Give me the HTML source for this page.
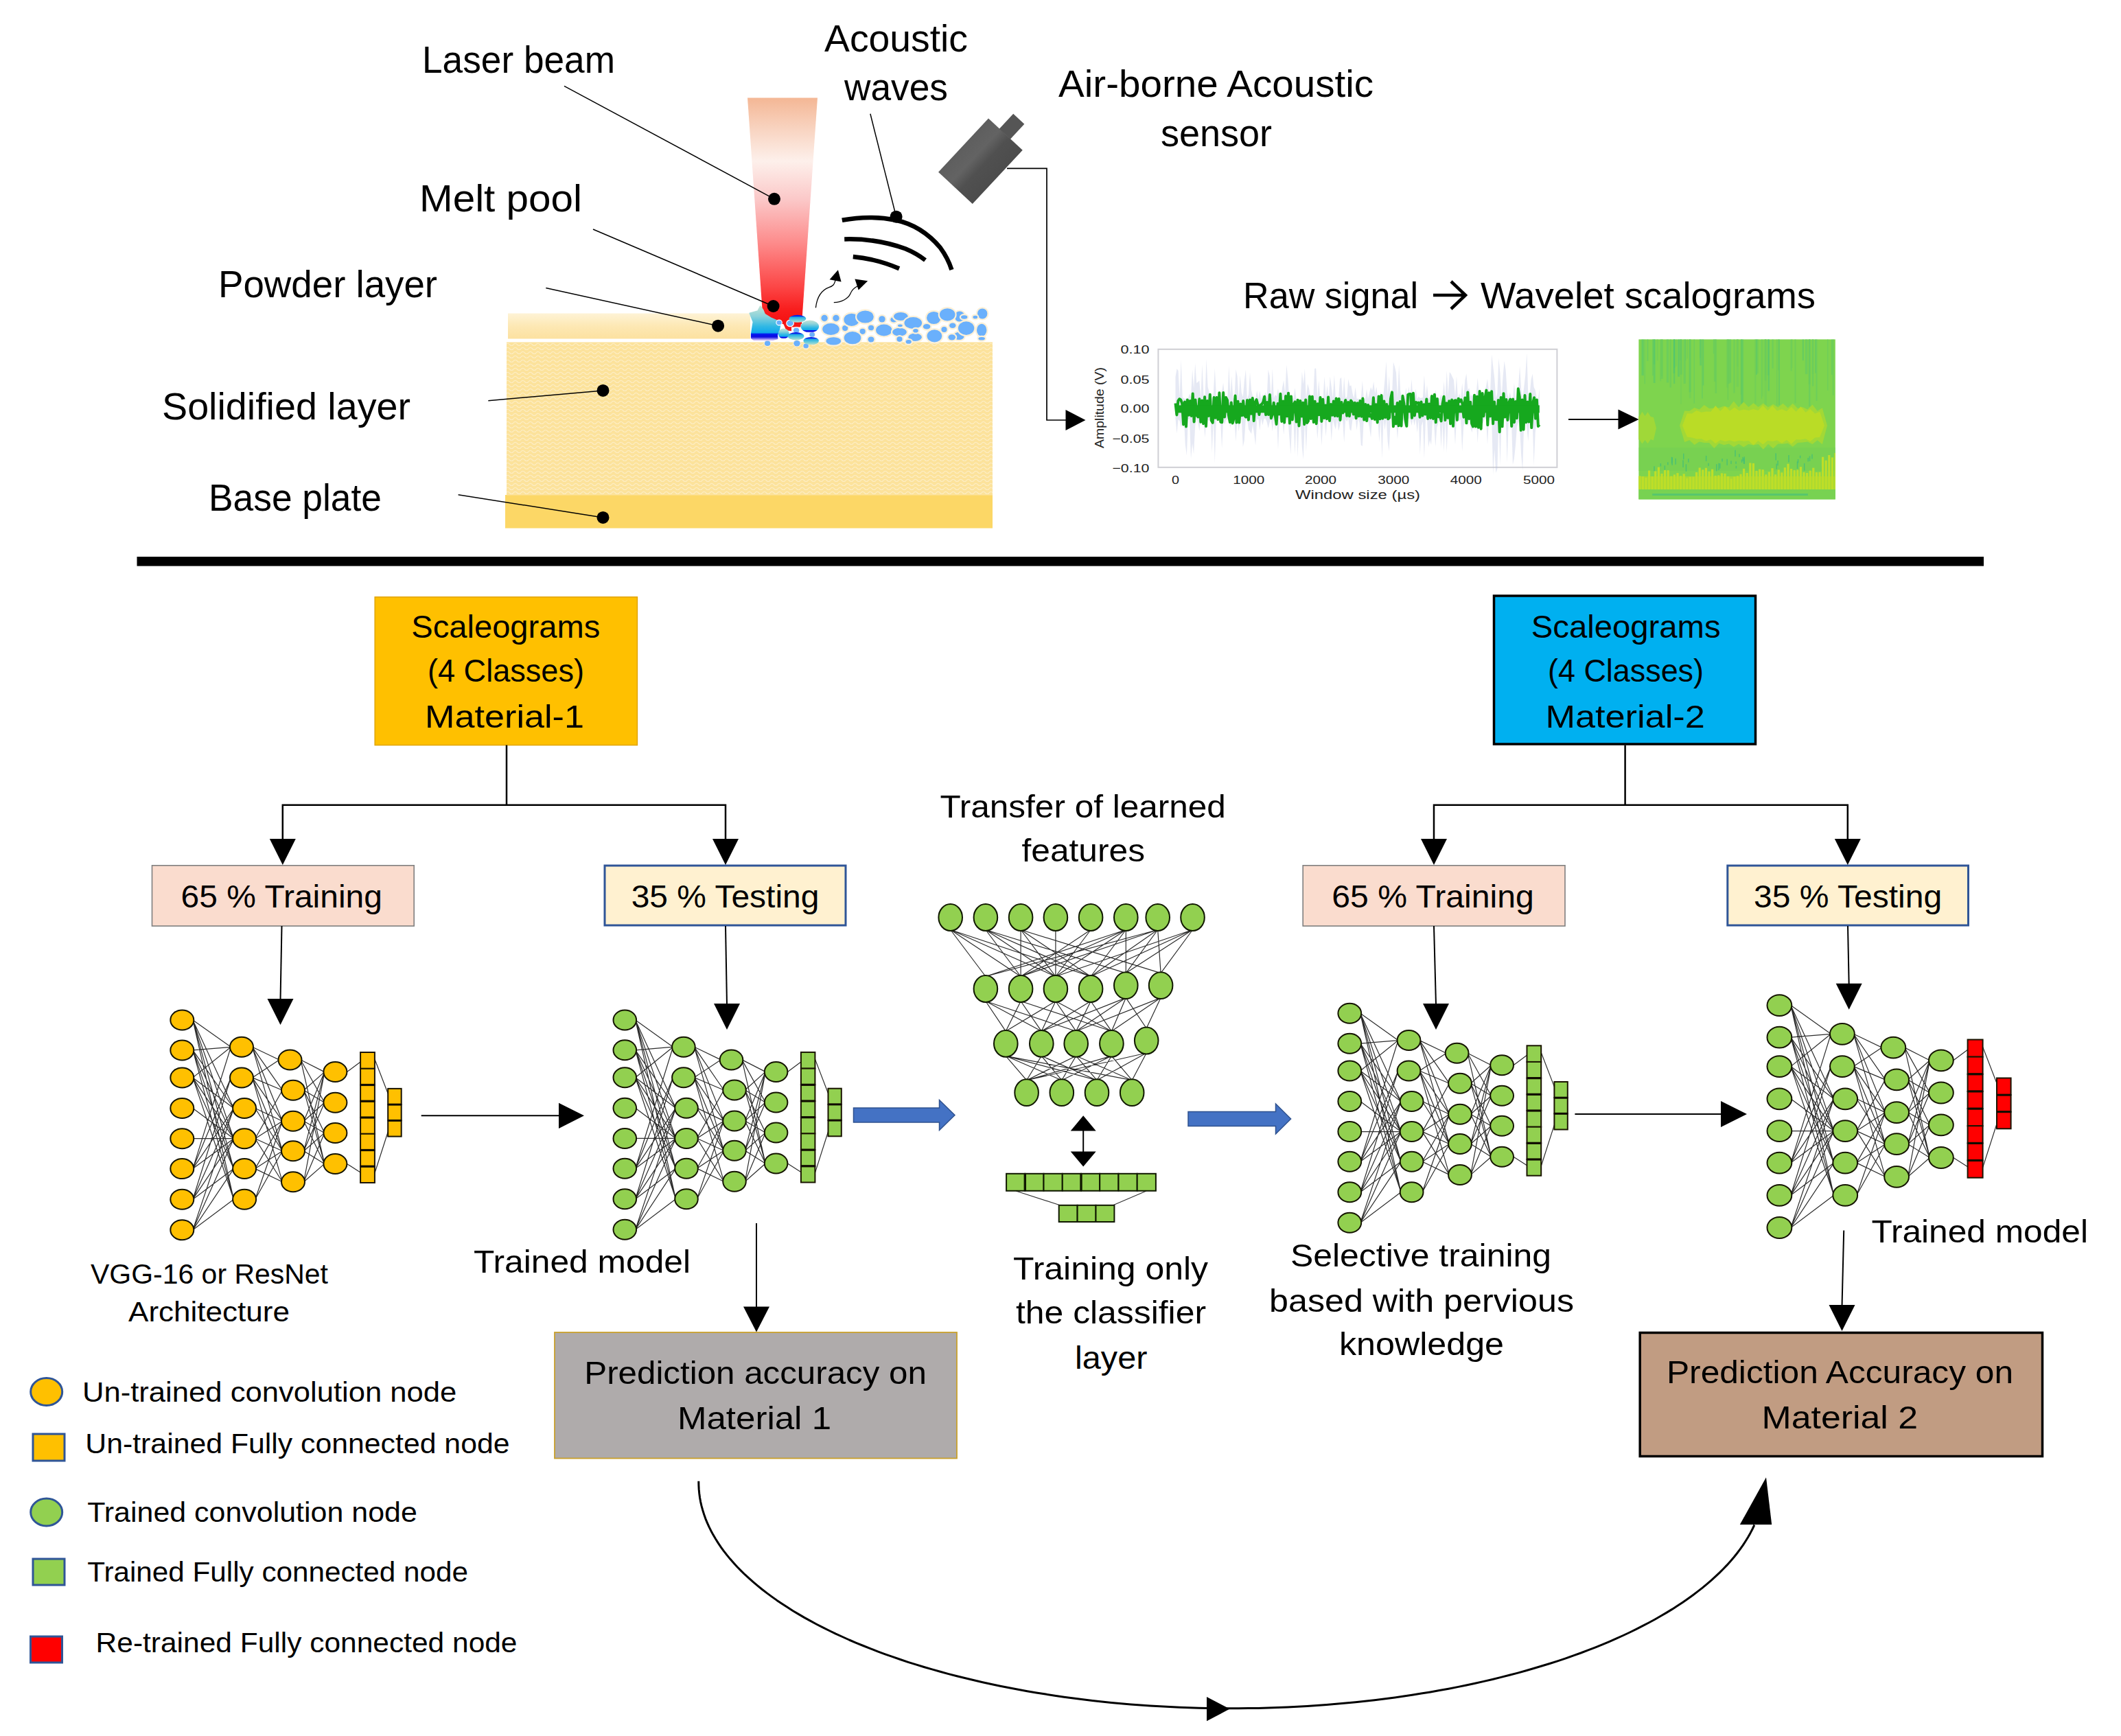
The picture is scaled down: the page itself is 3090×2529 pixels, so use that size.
<!DOCTYPE html>
<html><head><meta charset="utf-8"><title>Transfer learning schematic</title>
<style>html,body{margin:0;padding:0;background:#fff;}body{width:3090px;height:2529px;overflow:hidden;font-family:"Liberation Sans",sans-serif;}svg{display:block}</style></head>
<body><svg width="3090" height="2529" viewBox="0 0 3090 2529">
<rect width="3090" height="2529" fill="#fff"/>
<defs>
<linearGradient id="laser" x1="0" y1="0" x2="0" y2="1">
<stop offset="0" stop-color="#F4B795"/><stop offset="0.13" stop-color="#F8D2BE"/><stop offset="0.28" stop-color="#FDF0EB"/><stop offset="0.45" stop-color="#FBC8C8"/><stop offset="0.645" stop-color="#FD8A8A"/><stop offset="0.836" stop-color="#FC4646"/><stop offset="0.94" stop-color="#F81C1C"/><stop offset="1" stop-color="#F41010"/>
</linearGradient>
<linearGradient id="powder" x1="0" y1="0" x2="0" y2="1">
<stop offset="0" stop-color="#FEF3D6"/><stop offset="0.5" stop-color="#FDE8B4"/><stop offset="1" stop-color="#FCE1A0"/>
</linearGradient>
<linearGradient id="melt" x1="0" y1="0" x2="0" y2="1">
<stop offset="0" stop-color="#C4E4D6"/><stop offset="0.3" stop-color="#8CD2DA"/><stop offset="0.6" stop-color="#30B8E4"/><stop offset="0.78" stop-color="#10A8EC"/><stop offset="0.83" stop-color="#0410F0"/><stop offset="0.91" stop-color="#1010E0"/><stop offset="1" stop-color="#D0C0F8"/>
</linearGradient>
<linearGradient id="melt2" x1="0" y1="0" x2="0" y2="1">
<stop offset="0" stop-color="#0818E8"/><stop offset="0.16" stop-color="#0828E8"/><stop offset="0.3" stop-color="#20ACE4"/><stop offset="0.6" stop-color="#5CC8DC"/><stop offset="1" stop-color="#B8E0D0"/>
</linearGradient>
<linearGradient id="sensor" x1="0" y1="0" x2="0" y2="1">
<stop offset="0" stop-color="#5E5E5E"/><stop offset="0.35" stop-color="#636363"/><stop offset="0.6" stop-color="#505050"/><stop offset="1" stop-color="#4C4C4C"/>
</linearGradient>
<pattern id="wave" width="11" height="6" patternUnits="userSpaceOnUse">
<rect width="11" height="6" fill="#FCE29B"/>
<path d="M0,4 Q2.75,0.8 5.5,4 T11,4" fill="none" stroke="#FDEDC2" stroke-width="1.3"/>
</pattern>
</defs>
<rect x="736" y="721" width="710" height="48.5" fill="#FCD766"/>
<rect x="738" y="498.5" width="708" height="223" fill="url(#wave)"/>
<rect x="740" y="456.5" width="353" height="37" fill="url(#powder)"/>
<polygon points="1089,142.5 1191,142.5 1168,472 1112,472" fill="url(#laser)"/>
<ellipse cx="1201.1" cy="463.5" rx="4.7" ry="4.7" fill="#6AB0FC" stroke="#FBF0D8" stroke-width="4.4" paint-order="stroke"/>
<ellipse cx="1218.0" cy="463.5" rx="4.7" ry="4.7" fill="#6AB0FC" stroke="#FBF0D8" stroke-width="4.4" paint-order="stroke"/>
<ellipse cx="1210.5" cy="479.4" rx="12.3" ry="8.5" fill="#6AB0FC" stroke="#FBF0D8" stroke-width="4.4" paint-order="stroke"/>
<ellipse cx="1231.2" cy="478.1" rx="4.1" ry="4.1" fill="#6AB0FC" stroke="#FBF0D8" stroke-width="4.4" paint-order="stroke"/>
<ellipse cx="1214.3" cy="496.9" rx="10.9" ry="5.7" fill="#6AB0FC" stroke="#FBF0D8" stroke-width="4.4" paint-order="stroke"/>
<ellipse cx="1240.7" cy="465.8" rx="11.3" ry="9.1" fill="#6AB0FC" stroke="#FBF0D8" stroke-width="4.4" paint-order="stroke"/>
<ellipse cx="1260.5" cy="461.5" rx="12.3" ry="9.1" fill="#6AB0FC" stroke="#FBF0D8" stroke-width="4.4" paint-order="stroke"/>
<ellipse cx="1256.7" cy="482.8" rx="4.1" ry="4.1" fill="#6AB0FC" stroke="#FBF0D8" stroke-width="4.4" paint-order="stroke"/>
<ellipse cx="1242.0" cy="492.2" rx="12.3" ry="9.1" fill="#6AB0FC" stroke="#FBF0D8" stroke-width="4.4" paint-order="stroke"/>
<ellipse cx="1269.0" cy="477.5" rx="4.1" ry="3.8" fill="#6AB0FC" stroke="#FBF0D8" stroke-width="4.4" paint-order="stroke"/>
<ellipse cx="1269.0" cy="494.5" rx="4.5" ry="4.1" fill="#6AB0FC" stroke="#FBF0D8" stroke-width="4.4" paint-order="stroke"/>
<ellipse cx="1285.0" cy="464.9" rx="4.7" ry="4.7" fill="#6AB0FC" stroke="#FBF0D8" stroke-width="4.4" paint-order="stroke"/>
<ellipse cx="1287.8" cy="480.9" rx="11.7" ry="8.5" fill="#6AB0FC" stroke="#FBF0D8" stroke-width="4.4" paint-order="stroke"/>
<ellipse cx="1302.0" cy="465.8" rx="4.7" ry="3.8" fill="#6AB0FC" stroke="#FBF0D8" stroke-width="4.4" paint-order="stroke"/>
<ellipse cx="1312.3" cy="461.1" rx="10.4" ry="6.0" fill="#6AB0FC" stroke="#FBF0D8" stroke-width="4.4" paint-order="stroke"/>
<ellipse cx="1330.3" cy="470.5" rx="12.8" ry="8.5" fill="#6AB0FC" stroke="#FBF0D8" stroke-width="4.4" paint-order="stroke"/>
<ellipse cx="1310.5" cy="483.7" rx="10.4" ry="6.0" fill="#6AB0FC" stroke="#FBF0D8" stroke-width="4.4" paint-order="stroke"/>
<ellipse cx="1310.5" cy="494.1" rx="4.1" ry="3.8" fill="#6AB0FC" stroke="#FBF0D8" stroke-width="4.4" paint-order="stroke"/>
<ellipse cx="1333.1" cy="491.3" rx="9.8" ry="5.7" fill="#6AB0FC" stroke="#FBF0D8" stroke-width="4.4" paint-order="stroke"/>
<ellipse cx="1323.7" cy="497.9" rx="4.1" ry="2.8" fill="#6AB0FC" stroke="#FBF0D8" stroke-width="4.4" paint-order="stroke"/>
<ellipse cx="1350.1" cy="475.8" rx="5.3" ry="3.8" fill="#6AB0FC" stroke="#FBF0D8" stroke-width="4.4" paint-order="stroke"/>
<ellipse cx="1360.4" cy="463.0" rx="10.4" ry="9.1" fill="#6AB0FC" stroke="#FBF0D8" stroke-width="4.4" paint-order="stroke"/>
<ellipse cx="1398.1" cy="461.1" rx="7.5" ry="7.5" fill="#6AB0FC" stroke="#FBF0D8" stroke-width="4.4" paint-order="stroke"/>
<ellipse cx="1380.2" cy="458.3" rx="11.3" ry="9.1" fill="#6AB0FC" stroke="#FBF0D8" stroke-width="4.4" paint-order="stroke"/>
<ellipse cx="1404.7" cy="462.0" rx="4.7" ry="2.8" fill="#6AB0FC" stroke="#FBF0D8" stroke-width="4.4" paint-order="stroke"/>
<ellipse cx="1361.4" cy="489.4" rx="10.9" ry="9.1" fill="#6AB0FC" stroke="#FBF0D8" stroke-width="4.4" paint-order="stroke"/>
<ellipse cx="1375.5" cy="480.0" rx="4.1" ry="4.1" fill="#6AB0FC" stroke="#FBF0D8" stroke-width="4.4" paint-order="stroke"/>
<ellipse cx="1387.8" cy="474.3" rx="4.7" ry="3.8" fill="#6AB0FC" stroke="#FBF0D8" stroke-width="4.4" paint-order="stroke"/>
<ellipse cx="1397.2" cy="489.4" rx="7.5" ry="5.7" fill="#6AB0FC" stroke="#FBF0D8" stroke-width="4.4" paint-order="stroke"/>
<ellipse cx="1386.8" cy="491.3" rx="5.3" ry="4.1" fill="#6AB0FC" stroke="#FBF0D8" stroke-width="4.4" paint-order="stroke"/>
<ellipse cx="1407.6" cy="478.1" rx="11.7" ry="9.8" fill="#6AB0FC" stroke="#FBF0D8" stroke-width="4.4" paint-order="stroke"/>
<ellipse cx="1431.2" cy="456.9" rx="7.2" ry="7.5" fill="#6AB0FC" stroke="#FBF0D8" stroke-width="4.4" paint-order="stroke"/>
<ellipse cx="1420.8" cy="462.0" rx="3.4" ry="2.3" fill="#6AB0FC" stroke="#FBF0D8" stroke-width="4.4" paint-order="stroke"/>
<ellipse cx="1430.2" cy="480.9" rx="7.2" ry="9.1" fill="#6AB0FC" stroke="#FBF0D8" stroke-width="4.4" paint-order="stroke"/>
<ellipse cx="1430.2" cy="493.2" rx="4.7" ry="2.3" fill="#6AB0FC" stroke="#FBF0D8" stroke-width="4.4" paint-order="stroke"/>
<ellipse cx="1334.0" cy="481.8" rx="3.8" ry="2.8" fill="#6AB0FC" stroke="#FBF0D8" stroke-width="4.4" paint-order="stroke"/>
<ellipse cx="1311.4" cy="474.3" rx="3.4" ry="1.9" fill="#6AB0FC" stroke="#FBF0D8" stroke-width="4.4" paint-order="stroke"/>
<polygon points="1139.8,470.9 1167.1,470.9 1166.2,476.6 1153.0,476.6 1153.0,482.2 1145.4,481.3 1141.7,472.8" fill="#F41818"/>
<ellipse cx="1118.1" cy="500.2" rx="4.2" ry="3.8" fill="#6AB0FC" stroke="#FBF1DC" stroke-width="2" paint-order="stroke"/>
<ellipse cx="1161.0" cy="500.2" rx="4.7" ry="4.2" fill="#6AB0FC" stroke="#FBF1DC" stroke-width="2" paint-order="stroke"/>
<ellipse cx="1174.2" cy="503.9" rx="3.8" ry="3.4" fill="#6AB0FC" stroke="#FBF1DC" stroke-width="2" paint-order="stroke"/>
<ellipse cx="1183.2" cy="487.4" rx="3.8" ry="3.4" fill="#6AB0FC" stroke="#FBF1DC" stroke-width="2" paint-order="stroke"/>
<path d="M1092.2,456.3 L1103.9,453.0 L1107.7,445.9 L1111.5,451.1 L1114.3,457.7 L1122.8,462.9 L1131.3,466.7 L1137.4,469.5 L1136.0,476.6 L1135.1,481.3 L1132.2,487.9 L1132.7,493.6 L1126.6,495.4 L1098.3,495.4 L1094.7,492.6 L1094.7,486.0 L1097.3,469.0 Z" fill="url(#melt)" stroke="url(#melt)" stroke-width="1.5" stroke-linejoin="round"/>
<ellipse cx="1141.7" cy="486.0" rx="8.0" ry="7.5" fill="url(#melt)" />
<ellipse cx="1179.9" cy="475.6" rx="13.2" ry="9.0" fill="url(#melt)" />
<ellipse cx="1135.1" cy="470.0" rx="3.6" ry="3.2" fill="#6AB0FC" stroke="#FFFFFF" stroke-width="2.4" paint-order="stroke"/>
<ellipse cx="1151.1" cy="470.9" rx="4.7" ry="4.2" fill="#6AB0FC" stroke="#FFFFFF" stroke-width="2.4" paint-order="stroke"/>
<ellipse cx="1160.1" cy="481.3" rx="4.2" ry="3.8" fill="#6AB0FC" stroke="#FFFFFF" stroke-width="2.4" paint-order="stroke"/>
<ellipse cx="1161.9" cy="464.3" rx="12.3" ry="5.5" fill="url(#melt2)" />
<ellipse cx="1159.6" cy="489.8" rx="11.8" ry="5.7" fill="url(#melt2)" />
<ellipse cx="1181.7" cy="496.6" rx="11.3" ry="5.7" fill="url(#melt2)" />
<path d="M1188.4,448.3 C1190.7,429.0 1200.1,421.5 1207.7,418.7 S1215.2,413.9 1217.1,408.3" fill="none" stroke="#000" stroke-width="1.3"/>
<polygon points="1220.9,393.2 1208.6,407.3 1225.6,410.6" fill="#000"/>
<path d="M1214.8,440.7 C1226.5,440.3 1236.0,434.7 1238.8,428.1 S1243.5,420.5 1249.2,416.8" fill="none" stroke="#000" stroke-width="1.3"/>
<polygon points="1264.2,409.2 1245.4,406.4 1250.7,422.4" fill="#000"/>
<path d="M1226.8,320.8 Q1268,313 1305.2,320.8 T1369.7,360.6 Q1381,376 1386.4,392.9" fill="none" stroke="#000" stroke-width="6.5"/>
<path d="M1230.2,348.4 Q1276.4,347 1318.8,362.3 Q1335,369 1348,379" fill="none" stroke="#000" stroke-width="6.5"/>
<path d="M1242.8,373.9 Q1276.4,377 1310,391.2" fill="none" stroke="#000" stroke-width="6.5"/>
<g transform="translate(1428.4,234.7) rotate(-47)"><rect x="-53.5" y="-34" width="107" height="68" fill="url(#sensor)"/><rect x="53" y="-12" width="30" height="22" fill="#555"/></g>
<polyline points="1467,245.4 1525,245.4 1525,612 1554,612" fill="none" stroke="#000" stroke-width="1.7"/>
<polygon points="1552.5,597 1552.5,627 1581.5,612" fill="#000"/>
<line x1="822" y1="125.4" x2="1128" y2="289.8" stroke="#000" stroke-width="1.5"/>
<circle cx="1128" cy="289.8" r="9" fill="#000"/>
<line x1="864" y1="334" x2="1126.6" y2="446" stroke="#000" stroke-width="1.5"/>
<circle cx="1126.6" cy="446" r="9" fill="#000"/>
<line x1="795.3" y1="419.5" x2="1046.1" y2="474.7" stroke="#000" stroke-width="1.5"/>
<circle cx="1046.1" cy="474.7" r="9" fill="#000"/>
<line x1="711.3" y1="583.7" x2="878.5" y2="568.9" stroke="#000" stroke-width="1.5"/>
<circle cx="878.5" cy="568.9" r="9" fill="#000"/>
<line x1="667.6" y1="720.8" x2="878.5" y2="753.9" stroke="#000" stroke-width="1.5"/>
<circle cx="878.5" cy="753.9" r="9" fill="#000"/>
<line x1="1267.9" y1="165.8" x2="1305.6" y2="315.7" stroke="#000" stroke-width="1.5"/>
<circle cx="1305.6" cy="315.7" r="9" fill="#000"/>
<g font-family="Liberation Sans, sans-serif">
<text x="615.0" y="106.3" font-size="56" textLength="281.0" lengthAdjust="spacingAndGlyphs" fill="#000" >Laser beam</text>
<text x="611.0" y="307.6" font-size="56" textLength="237.0" lengthAdjust="spacingAndGlyphs" fill="#000" >Melt pool</text>
<text x="318.0" y="433.1" font-size="56" textLength="319.0" lengthAdjust="spacingAndGlyphs" fill="#000" >Powder layer</text>
<text x="236.0" y="610.9" font-size="56" textLength="362.0" lengthAdjust="spacingAndGlyphs" fill="#000" >Solidified layer</text>
<text x="304.0" y="743.7" font-size="56" textLength="252.0" lengthAdjust="spacingAndGlyphs" fill="#000" >Base plate</text>
<text x="1201.0" y="75.2" font-size="56" textLength="209.0" lengthAdjust="spacingAndGlyphs" fill="#000" >Acoustic</text>
<text x="1230.0" y="145.9" font-size="56" textLength="151.0" lengthAdjust="spacingAndGlyphs" fill="#000" >waves</text>
<text x="1542.0" y="140.5" font-size="56" textLength="459.0" lengthAdjust="spacingAndGlyphs" fill="#000" >Air-borne Acoustic</text>
<text x="1691.0" y="213.0" font-size="56" textLength="162.0" lengthAdjust="spacingAndGlyphs" fill="#000" >sensor</text>
<text x="1811.0" y="448.9" font-size="54" textLength="255.0" lengthAdjust="spacingAndGlyphs" fill="#000" >Raw signal</text>
<text x="2157.0" y="448.9" font-size="54" textLength="488.0" lengthAdjust="spacingAndGlyphs" fill="#000" >Wavelet scalograms</text>
</g>
<path d="M2088,430 H2134 M2114,410 L2135,430 L2114,450" fill="none" stroke="#000" stroke-width="4.5"/>
<rect x="1687.4" y="508.8" width="581" height="172" fill="#fff" stroke="#CFCFD4" stroke-width="2"/>
<polygon points="1712.5,549.0 1714.5,537.2 1716.6,540.1 1718.6,578.5 1720.7,523.9 1722.7,578.7 1724.8,580.2 1726.8,581.3 1728.9,580.0 1730.9,580.5 1733.0,573.2 1735.0,578.2 1737.1,538.4 1739.1,565.7 1741.2,529.2 1743.2,557.9 1745.3,556.6 1747.3,554.5 1749.4,579.9 1751.4,531.1 1753.4,574.8 1755.5,579.7 1757.5,523.1 1759.6,563.8 1761.6,570.7 1763.7,581.1 1765.7,580.8 1767.8,573.9 1769.8,536.6 1771.9,576.0 1773.9,581.0 1776.0,579.1 1778.0,580.6 1780.1,570.9 1782.1,557.7 1784.2,577.5 1786.2,578.5 1788.3,581.4 1790.3,533.0 1792.4,574.7 1794.4,548.0 1796.4,580.4 1798.5,578.2 1800.5,537.9 1802.6,548.5 1804.6,581.4 1806.7,546.6 1808.7,571.7 1810.8,578.5 1812.8,554.9 1814.9,538.4 1816.9,581.3 1819.0,574.8 1821.0,542.8 1823.1,568.9 1825.1,577.0 1827.2,581.4 1829.2,580.8 1831.3,569.0 1833.3,581.3 1835.3,569.4 1837.4,581.3 1839.4,574.6 1841.5,578.6 1843.5,571.0 1845.6,580.1 1847.6,538.4 1849.7,547.5 1851.7,580.8 1853.8,537.0 1855.8,579.9 1857.9,575.1 1859.9,577.6 1862.0,565.9 1864.0,580.8 1866.1,579.4 1868.1,564.4 1870.2,554.1 1872.2,574.4 1874.3,531.6 1876.3,551.1 1878.3,580.8 1880.4,580.0 1882.4,574.6 1884.5,580.8 1886.5,565.0 1888.6,581.2 1890.6,580.9 1892.7,581.2 1894.7,581.4 1896.8,541.4 1898.8,559.8 1900.9,537.3 1902.9,581.1 1905.0,559.1 1907.0,565.8 1909.1,578.6 1911.1,581.1 1913.2,580.3 1915.2,537.0 1917.2,536.4 1919.3,579.2 1921.3,554.4 1923.4,581.4 1925.4,579.0 1927.5,581.1 1929.5,548.5 1931.6,578.3 1933.6,561.6 1935.7,581.4 1937.7,548.3 1939.8,564.0 1941.8,579.8 1943.9,545.9 1945.9,580.7 1948.0,580.2 1950.0,581.4 1952.1,552.0 1954.1,549.7 1956.2,580.9 1958.2,548.9 1960.2,579.3 1962.3,578.5 1964.3,552.3 1966.4,562.6 1968.4,561.2 1970.5,573.3 1972.5,580.2 1974.6,563.9 1976.6,581.1 1978.7,580.8 1980.7,581.4 1982.8,580.1 1984.8,555.0 1986.9,580.7 1988.9,581.4 1991.0,567.1 1993.0,580.9 1995.1,571.6 1997.1,563.9 1999.1,569.0 2001.2,555.8 2003.2,573.4 2005.3,563.5 2007.3,580.7 2009.4,581.2 2011.4,571.0 2013.5,578.0 2015.5,574.2 2017.6,551.9 2019.6,526.6 2021.7,575.3 2023.7,547.4 2025.8,581.4 2027.8,581.3 2029.9,527.6 2031.9,534.1 2034.0,543.1 2036.0,580.4 2038.1,531.2 2040.1,568.8 2042.1,580.8 2044.2,581.2 2046.2,580.4 2048.3,565.0 2050.3,581.4 2052.4,563.1 2054.4,579.6 2056.5,552.2 2058.5,581.4 2060.6,577.9 2062.6,566.5 2064.7,581.2 2066.7,577.5 2068.8,579.8 2070.8,579.7 2072.9,578.9 2074.9,546.5 2077.0,578.8 2079.0,561.0 2081.0,581.4 2083.1,577.4 2085.1,577.9 2087.2,576.4 2089.2,581.4 2091.3,568.1 2093.3,581.4 2095.4,578.9 2097.4,581.2 2099.5,574.4 2101.5,581.3 2103.6,555.7 2105.6,581.0 2107.7,540.1 2109.7,575.8 2111.8,542.1 2113.8,544.6 2115.9,549.2 2117.9,553.3 2120.0,577.5 2122.0,548.0 2124.0,580.8 2126.1,573.1 2128.1,581.3 2130.2,558.2 2132.2,581.4 2134.3,554.3 2136.3,544.3 2138.4,567.7 2140.4,565.5 2142.5,576.6 2144.5,576.3 2146.6,575.4 2148.6,581.4 2150.7,573.4 2152.7,550.5 2154.8,574.6 2156.8,573.9 2158.9,581.2 2160.9,581.3 2162.9,571.7 2165.0,562.4 2167.0,552.1 2169.1,571.4 2171.1,571.8 2173.2,516.4 2175.2,533.5 2177.3,551.5 2179.3,580.8 2181.4,572.3 2183.4,522.3 2185.5,543.7 2187.5,581.4 2189.6,548.1 2191.6,526.1 2193.7,539.8 2195.7,571.7 2197.8,580.7 2199.8,571.6 2201.9,581.4 2203.9,581.1 2205.9,558.0 2208.0,581.0 2210.0,581.3 2212.1,562.6 2214.1,533.3 2216.2,567.4 2218.2,581.3 2220.3,563.8 2222.3,546.0 2224.4,514.2 2226.4,578.2 2228.5,575.5 2230.5,553.7 2232.6,544.6 2234.6,564.1 2236.7,568.2 2238.7,579.4 2240.8,581.4 2242.8,566.4 2242.8,615.1 2240.8,609.6 2238.7,609.4 2236.7,630.4 2234.6,678.5 2232.6,610.6 2230.5,609.4 2228.5,609.8 2226.4,643.0 2224.4,624.0 2222.3,610.8 2220.3,614.1 2218.2,685.6 2216.2,663.4 2214.1,623.0 2212.1,613.1 2210.0,621.4 2208.0,648.6 2205.9,668.0 2203.9,676.9 2201.9,609.9 2199.8,612.1 2197.8,610.9 2195.7,674.6 2193.7,609.6 2191.6,611.2 2189.6,609.7 2187.5,613.0 2185.5,677.4 2183.4,609.8 2181.4,683.1 2179.3,688.9 2177.3,654.7 2175.2,691.8 2173.2,609.6 2171.1,613.9 2169.1,609.4 2167.0,647.7 2165.0,609.4 2162.9,609.4 2160.9,616.3 2158.9,615.7 2156.8,609.5 2154.8,609.8 2152.7,645.5 2150.7,610.4 2148.6,627.0 2146.6,615.6 2144.5,630.2 2142.5,623.6 2140.4,611.4 2138.4,621.0 2136.3,609.5 2134.3,609.4 2132.2,621.4 2130.2,657.7 2128.1,610.4 2126.1,613.1 2124.0,613.5 2122.0,609.8 2120.0,648.1 2117.9,610.1 2115.9,609.7 2113.8,622.4 2111.8,612.6 2109.7,609.4 2107.7,659.6 2105.6,609.5 2103.6,658.2 2101.5,615.8 2099.5,652.4 2097.4,610.6 2095.4,616.4 2093.3,622.6 2091.3,651.0 2089.2,618.7 2087.2,609.6 2085.1,648.3 2083.1,640.9 2081.0,651.6 2079.0,609.9 2077.0,609.8 2074.9,668.0 2072.9,613.7 2070.8,620.4 2068.8,662.1 2066.7,610.8 2064.7,630.2 2062.6,609.4 2060.6,619.9 2058.5,609.5 2056.5,619.9 2054.4,609.9 2052.4,609.8 2050.3,611.7 2048.3,609.9 2046.2,623.4 2044.2,610.0 2042.1,612.7 2040.1,624.9 2038.1,609.5 2036.0,639.9 2034.0,615.3 2031.9,612.7 2029.9,622.1 2027.8,609.8 2025.8,611.0 2023.7,657.4 2021.7,643.6 2019.6,609.5 2017.6,626.4 2015.5,610.1 2013.5,667.9 2011.4,611.5 2009.4,644.1 2007.3,610.1 2005.3,609.8 2003.2,611.9 2001.2,610.6 1999.1,609.5 1997.1,637.2 1995.1,623.2 1993.0,612.6 1991.0,613.3 1988.9,614.7 1986.9,609.4 1984.8,649.9 1982.8,648.6 1980.7,616.3 1978.7,609.4 1976.6,626.7 1974.6,609.4 1972.5,611.3 1970.5,610.8 1968.4,627.8 1966.4,625.5 1964.3,609.6 1962.3,614.2 1960.2,610.0 1958.2,644.7 1956.2,613.8 1954.1,609.4 1952.1,620.1 1950.0,627.7 1948.0,610.3 1945.9,625.5 1943.9,619.8 1941.8,610.3 1939.8,642.7 1937.7,610.2 1935.7,609.4 1933.6,609.4 1931.6,635.7 1929.5,609.4 1927.5,611.9 1925.4,649.6 1923.4,615.0 1921.3,613.7 1919.3,639.5 1917.2,609.9 1915.2,609.5 1913.2,611.9 1911.1,609.4 1909.1,611.5 1907.0,612.6 1905.0,609.4 1902.9,658.1 1900.9,611.5 1898.8,669.2 1896.8,651.2 1894.7,613.1 1892.7,609.4 1890.6,665.9 1888.6,613.1 1886.5,661.6 1884.5,613.8 1882.4,609.8 1880.4,661.8 1878.3,636.0 1876.3,610.1 1874.3,611.2 1872.2,609.9 1870.2,633.3 1868.1,609.9 1866.1,613.7 1864.0,609.4 1862.0,654.7 1859.9,610.4 1857.9,626.6 1855.8,609.4 1853.8,628.6 1851.7,610.2 1849.7,615.2 1847.6,623.7 1845.6,614.6 1843.5,609.4 1841.5,610.0 1839.4,619.6 1837.4,609.4 1835.3,626.8 1833.3,610.2 1831.3,610.8 1829.2,648.8 1827.2,633.6 1825.1,617.9 1823.1,632.0 1821.0,628.4 1819.0,625.5 1816.9,609.6 1814.9,610.2 1812.8,641.8 1810.8,650.9 1808.7,609.4 1806.7,615.0 1804.6,628.6 1802.6,609.4 1800.5,643.0 1798.5,614.3 1796.4,610.3 1794.4,610.0 1792.4,623.8 1790.3,609.5 1788.3,610.7 1786.2,611.7 1784.2,618.2 1782.1,613.7 1780.1,653.1 1778.0,610.5 1776.0,609.4 1773.9,609.4 1771.9,609.6 1769.8,674.8 1767.8,610.1 1765.7,659.4 1763.7,609.7 1761.6,613.6 1759.6,611.3 1757.5,610.6 1755.5,637.3 1753.4,612.2 1751.4,609.5 1749.4,609.4 1747.3,628.0 1745.3,615.7 1743.2,609.4 1741.2,620.8 1739.1,661.6 1737.1,645.9 1735.0,668.6 1733.0,609.9 1730.9,610.7 1728.9,663.5 1726.8,647.5 1724.8,609.4 1722.7,614.4 1720.7,622.4 1718.6,613.2 1716.6,610.9 1714.5,631.5 1712.5,609.5" fill="#B0BCDC" opacity="0.32"/>
<polyline points="1712.5,587.5 1714.4,604.4 1716.4,583.9 1718.3,581.3 1720.2,582.4 1722.2,587.8 1724.1,618.4 1726.0,585.6 1728.0,621.4 1729.9,582.4 1731.9,604.8 1733.8,584.1 1735.7,605.9 1737.7,573.4 1739.6,614.5 1741.5,582.4 1743.5,605.3 1745.4,607.5 1747.3,581.2 1749.3,614.8 1751.2,583.6 1753.1,617.2 1755.1,578.3 1757.0,620.9 1758.9,584.0 1760.9,606.0 1762.8,574.8 1764.8,612.4 1766.7,615.8 1768.6,579.0 1770.6,608.8 1772.5,578.9 1774.4,611.1 1776.4,572.2 1778.3,614.7 1780.2,615.2 1782.2,572.0 1784.1,607.4 1786.0,578.9 1788.0,582.8 1789.9,604.6 1791.9,615.1 1793.8,586.6 1795.7,616.5 1797.7,609.0 1799.6,576.6 1801.5,615.6 1803.5,584.7 1805.4,615.6 1807.3,588.6 1809.3,605.2 1811.2,584.1 1813.1,605.4 1815.1,607.5 1817.0,583.1 1818.9,611.5 1820.9,582.5 1822.8,602.8 1824.8,580.0 1826.7,613.1 1828.6,585.7 1830.6,582.2 1832.5,589.8 1834.4,604.1 1836.4,589.9 1838.3,588.8 1840.2,585.9 1842.2,577.8 1844.1,604.2 1846.0,585.9 1848.0,604.0 1849.9,575.1 1851.8,609.2 1853.8,603.9 1855.7,586.7 1857.7,604.8 1859.6,617.9 1861.5,588.0 1863.5,603.5 1865.4,573.8 1867.3,613.9 1869.3,584.5 1871.2,615.6 1873.1,577.0 1875.1,606.3 1877.0,572.7 1878.9,616.6 1880.9,577.4 1882.8,611.4 1884.8,588.9 1886.7,585.4 1888.6,614.6 1890.6,582.7 1892.5,620.4 1894.4,584.1 1896.4,606.5 1898.3,586.7 1900.2,618.2 1902.2,582.4 1904.1,616.0 1906.0,613.3 1908.0,577.4 1909.9,609.9 1911.8,577.7 1913.8,615.1 1915.7,584.7 1917.7,617.2 1919.6,588.2 1921.5,604.3 1923.5,578.9 1925.4,614.0 1927.3,581.8 1929.3,609.1 1931.2,590.4 1933.1,610.2 1935.1,578.5 1937.0,613.0 1938.9,588.9 1940.9,604.7 1942.8,584.5 1944.7,606.0 1946.7,580.5 1948.6,606.2 1950.6,580.9 1952.5,611.9 1954.4,586.1 1956.4,601.4 1958.3,590.1 1960.2,583.0 1962.2,605.7 1964.1,586.1 1966.0,606.2 1968.0,583.4 1969.9,586.1 1971.8,603.5 1973.8,586.7 1975.7,609.3 1977.7,587.3 1979.6,606.3 1981.5,584.1 1983.5,606.8 1985.4,580.5 1987.3,611.6 1989.3,588.9 1991.2,613.0 1993.1,590.0 1995.1,606.5 1997.0,604.2 1998.9,609.9 2000.9,579.3 2002.8,611.0 2004.7,589.3 2006.7,615.4 2008.6,577.4 2010.6,610.3 2012.5,576.0 2014.4,609.7 2016.4,584.6 2018.3,608.0 2020.2,588.9 2022.2,610.3 2024.1,608.5 2026.0,581.0 2028.0,571.4 2029.9,621.3 2031.8,607.7 2033.8,617.4 2035.7,587.1 2037.6,620.3 2039.6,585.1 2041.5,620.5 2043.5,576.8 2045.4,588.1 2047.3,610.6 2049.3,620.8 2051.2,574.9 2053.1,573.9 2055.1,573.9 2057.0,608.8 2058.9,572.8 2060.9,605.4 2062.8,585.9 2064.7,587.1 2066.7,586.6 2068.6,607.7 2070.5,585.4 2072.5,605.6 2074.4,589.2 2076.4,603.5 2078.3,581.5 2080.2,609.9 2082.2,588.5 2084.1,608.9 2086.0,577.1 2088.0,609.9 2089.9,574.7 2091.8,615.3 2093.8,581.0 2095.7,607.2 2097.6,604.2 2099.6,613.4 2101.5,588.3 2103.5,577.8 2105.4,612.1 2107.3,587.2 2109.3,608.8 2111.2,584.2 2113.1,617.3 2115.1,582.5 2117.0,620.8 2118.9,583.7 2120.9,583.2 2122.8,611.9 2124.7,580.7 2126.7,584.9 2128.6,582.4 2130.5,588.2 2132.5,607.7 2134.4,579.4 2136.4,616.3 2138.3,571.4 2140.2,610.0 2142.2,585.8 2144.1,616.9 2146.0,621.5 2148.0,575.8 2149.9,621.5 2151.8,577.7 2153.8,622.7 2155.7,570.1 2157.6,624.7 2159.6,572.9 2161.5,606.2 2163.4,580.3 2165.4,568.6 2167.3,619.1 2169.3,572.3 2171.2,606.3 2173.1,570.2 2175.1,617.3 2177.0,585.5 2178.9,610.9 2180.9,611.2 2182.8,582.9 2184.7,629.2 2186.7,578.9 2188.6,621.3 2190.5,573.2 2192.5,607.5 2194.4,581.9 2196.4,611.9 2198.3,586.3 2200.2,581.7 2202.2,621.0 2204.1,581.4 2206.0,615.2 2208.0,585.0 2209.9,609.2 2211.8,566.3 2213.8,578.3 2215.7,626.8 2217.6,582.6 2219.6,625.7 2221.5,576.1 2223.4,615.2 2225.4,585.6 2227.3,614.6 2229.3,574.0 2231.2,623.1 2233.1,587.5 2235.1,579.2 2237.0,609.7 2238.9,582.4 2240.9,620.9 2242.8,618.7" fill="none" stroke="#16A81E" stroke-width="4" stroke-linejoin="round"/>
<rect x="1712.5" y="590.4" width="530.3000000000002" height="11" fill="#16A81E"/>
<g font-family="Liberation Sans, sans-serif" fill="#222">
<text x="1632.4" y="514.8" font-size="17" textLength="42.0" lengthAdjust="spacingAndGlyphs" fill="#222" >0.10</text>
<text x="1632.4" y="558.5" font-size="17" textLength="42.0" lengthAdjust="spacingAndGlyphs" fill="#222" >0.05</text>
<text x="1632.4" y="601.4" font-size="17" textLength="42.0" lengthAdjust="spacingAndGlyphs" fill="#222" >0.00</text>
<text x="1620.4" y="645.0" font-size="17" textLength="54.0" lengthAdjust="spacingAndGlyphs" fill="#222" >−0.05</text>
<text x="1620.4" y="687.6" font-size="17" textLength="54.0" lengthAdjust="spacingAndGlyphs" fill="#222" >−0.10</text>
<text x="1707.0" y="704.5" font-size="17" textLength="11.0" lengthAdjust="spacingAndGlyphs" fill="#222" >0</text>
<text x="1796.2" y="704.5" font-size="17" textLength="46.0" lengthAdjust="spacingAndGlyphs" fill="#222" >1000</text>
<text x="1901.0" y="704.5" font-size="17" textLength="46.0" lengthAdjust="spacingAndGlyphs" fill="#222" >2000</text>
<text x="2007.3" y="704.5" font-size="17" textLength="46.0" lengthAdjust="spacingAndGlyphs" fill="#222" >3000</text>
<text x="2112.7" y="704.5" font-size="17" textLength="46.0" lengthAdjust="spacingAndGlyphs" fill="#222" >4000</text>
<text x="2219.0" y="704.5" font-size="17" textLength="46.0" lengthAdjust="spacingAndGlyphs" fill="#222" >5000</text>
<text x="1887.0" y="727.0" font-size="17.5" textLength="182.0" lengthAdjust="spacingAndGlyphs" fill="#222" >Window size (µs)</text>
<text transform="translate(1608,653) rotate(-90)" font-size="17.5" textLength="118" lengthAdjust="spacingAndGlyphs" fill="#222">Amplitude (V)</text>
</g>
<line x1="2285" y1="611" x2="2359.5" y2="611" stroke="#000" stroke-width="2"/>
<polygon points="2357.5,596.4 2357.5,625.6 2387.5,611" fill="#000"/>
<g><clipPath id="sc"><rect x="2387.2" y="494.2" width="286.7000000000003" height="233.40000000000003"/></clipPath><g clip-path="url(#sc)">
<rect x="2387.2" y="494.2" width="286.7000000000003" height="233.40000000000003" fill="#7ED44E"/>
<rect x="2516.9" y="494.2" width="3.3" height="64.8" fill="#62CA60" opacity="0.5"/>
<rect x="2516.7" y="494.2" width="1.5" height="88.4" fill="#62CA60" opacity="0.5"/>
<rect x="2567.8" y="494.2" width="1.2" height="83.4" fill="#6ACC5C" opacity="0.5"/>
<rect x="2427.9" y="494.2" width="3.2" height="63.1" fill="#5CC868" opacity="0.5"/>
<rect x="2557.9" y="494.2" width="2.1" height="51.7" fill="#4CC474" opacity="0.5"/>
<rect x="2565.9" y="494.2" width="1.2" height="86.5" fill="#5CC868" opacity="0.5"/>
<rect x="2441.7" y="494.2" width="1.1" height="39.4" fill="#62CA60" opacity="0.5"/>
<rect x="2480.7" y="494.2" width="1.5" height="67.3" fill="#4CC474" opacity="0.5"/>
<rect x="2570.8" y="494.2" width="2.7" height="60.0" fill="#62CA60" opacity="0.5"/>
<rect x="2574.9" y="494.2" width="2.4" height="52.5" fill="#5CC868" opacity="0.5"/>
<rect x="2590.1" y="494.2" width="1.6" height="45.2" fill="#6ACC5C" opacity="0.5"/>
<rect x="2395.7" y="494.2" width="1.3" height="65.1" fill="#5CC868" opacity="0.5"/>
<rect x="2629.9" y="494.2" width="3.4" height="50.9" fill="#5CC868" opacity="0.5"/>
<rect x="2448.4" y="494.2" width="1.1" height="94.2" fill="#62CA60" opacity="0.5"/>
<rect x="2668.3" y="494.2" width="1.2" height="51.8" fill="#4CC474" opacity="0.5"/>
<rect x="2610.4" y="494.2" width="1.2" height="41.6" fill="#6ACC5C" opacity="0.5"/>
<rect x="2391.5" y="494.2" width="3.3" height="52.8" fill="#4CC474" opacity="0.5"/>
<rect x="2457.8" y="494.2" width="1.1" height="28.1" fill="#62CA60" opacity="0.5"/>
<rect x="2438.1" y="494.2" width="2.1" height="64.7" fill="#4CC474" opacity="0.5"/>
<rect x="2669.7" y="494.2" width="2.0" height="81.6" fill="#62CA60" opacity="0.5"/>
<rect x="2420.6" y="494.2" width="1.5" height="53.7" fill="#6ACC5C" opacity="0.5"/>
<rect x="2635.0" y="494.2" width="2.5" height="98.0" fill="#5CC868" opacity="0.5"/>
<rect x="2447.6" y="494.2" width="3.1" height="51.5" fill="#5CC868" opacity="0.5"/>
<rect x="2399.3" y="494.2" width="2.1" height="31.7" fill="#5CC868" opacity="0.5"/>
<rect x="2608.7" y="494.2" width="1.7" height="46.3" fill="#5CC868" opacity="0.5"/>
<rect x="2408.5" y="494.2" width="2.6" height="36.7" fill="#5CC868" opacity="0.5"/>
<rect x="2559.6" y="494.2" width="2.1" height="49.7" fill="#62CA60" opacity="0.5"/>
<rect x="2625.8" y="494.2" width="2.0" height="30.9" fill="#4CC474" opacity="0.5"/>
<rect x="2476.3" y="494.2" width="2.5" height="38.3" fill="#4CC474" opacity="0.5"/>
<rect x="2432.6" y="494.2" width="2.4" height="70.3" fill="#62CA60" opacity="0.5"/>
<rect x="2640.1" y="494.2" width="2.1" height="68.3" fill="#5CC868" opacity="0.5"/>
<rect x="2418.5" y="494.2" width="1.6" height="61.0" fill="#62CA60" opacity="0.5"/>
<rect x="2460.9" y="494.2" width="2.5" height="85.9" fill="#6ACC5C" opacity="0.5"/>
<rect x="2536.3" y="494.2" width="3.4" height="94.3" fill="#4CC474" opacity="0.5"/>
<rect x="2452.7" y="494.2" width="3.1" height="64.7" fill="#5CC868" opacity="0.5"/>
<rect x="2467.5" y="494.2" width="1.5" height="93.4" fill="#5CC868" opacity="0.5"/>
<rect x="2407.0" y="494.2" width="1.6" height="52.9" fill="#5CC868" opacity="0.5"/>
<rect x="2437.7" y="494.2" width="2.4" height="49.5" fill="#4CC474" opacity="0.5"/>
<rect x="2413.6" y="494.2" width="2.1" height="31.1" fill="#6ACC5C" opacity="0.5"/>
<rect x="2575.5" y="494.2" width="2.5" height="75.3" fill="#4CC474" opacity="0.5"/>
<rect x="2556.3" y="494.2" width="2.2" height="93.9" fill="#6ACC5C" opacity="0.5"/>
<rect x="2588.2" y="494.2" width="1.1" height="97.0" fill="#5CC868" opacity="0.5"/>
<rect x="2525.5" y="494.2" width="1.8" height="78.4" fill="#5CC868" opacity="0.5"/>
<rect x="2408.8" y="494.2" width="2.8" height="63.7" fill="#4CC474" opacity="0.5"/>
<rect x="2614.6" y="494.2" width="1.9" height="93.2" fill="#62CA60" opacity="0.5"/>
<rect x="2645.5" y="494.2" width="2.0" height="89.7" fill="#5CC868" opacity="0.5"/>
<rect x="2634.8" y="494.2" width="2.6" height="65.8" fill="#62CA60" opacity="0.5"/>
<rect x="2495.9" y="494.2" width="1.2" height="21.0" fill="#5CC868" opacity="0.5"/>
<rect x="2570.5" y="494.2" width="3.2" height="99.5" fill="#6ACC5C" opacity="0.5"/>
<rect x="2498.6" y="494.2" width="2.5" height="78.8" fill="#62CA60" opacity="0.5"/>
<rect x="2519.8" y="494.2" width="2.3" height="63.3" fill="#5CC868" opacity="0.5"/>
<rect x="2476.1" y="494.2" width="1.1" height="27.0" fill="#5CC868" opacity="0.5"/>
<rect x="2529.8" y="494.2" width="3.3" height="69.2" fill="#6ACC5C" opacity="0.5"/>
<rect x="2644.2" y="494.2" width="1.4" height="49.4" fill="#4CC474" opacity="0.5"/>
<rect x="2535.8" y="494.2" width="1.9" height="80.3" fill="#62CA60" opacity="0.5"/>
<rect x="2530.1" y="494.2" width="2.0" height="39.3" fill="#6ACC5C" opacity="0.5"/>
<rect x="2444.1" y="494.2" width="3.0" height="54.5" fill="#4CC474" opacity="0.5"/>
<rect x="2639.6" y="494.2" width="2.5" height="50.8" fill="#6ACC5C" opacity="0.5"/>
<rect x="2447.4" y="494.2" width="1.9" height="30.8" fill="#5CC868" opacity="0.5"/>
<rect x="2591.1" y="494.2" width="1.7" height="96.0" fill="#4CC474" opacity="0.5"/>
<rect x="2419.5" y="494.2" width="3.3" height="57.7" fill="#62CA60" opacity="0.5"/>
<rect x="2496.9" y="494.2" width="2.7" height="61.6" fill="#62CA60" opacity="0.5"/>
<rect x="2479.0" y="494.2" width="1.7" height="86.3" fill="#5CC868" opacity="0.5"/>
<rect x="2581.7" y="494.2" width="1.9" height="42.5" fill="#5CC868" opacity="0.5"/>
<rect x="2571.0" y="494.2" width="1.5" height="52.4" fill="#6ACC5C" opacity="0.5"/>
<rect x="2455.3" y="494.2" width="1.1" height="31.3" fill="#5CC868" opacity="0.5"/>
<rect x="2515.2" y="494.2" width="2.6" height="70.4" fill="#6ACC5C" opacity="0.5"/>
<rect x="2662.0" y="494.2" width="1.5" height="74.8" fill="#62CA60" opacity="0.5"/>
<rect x="2460.6" y="494.2" width="2.9" height="77.1" fill="#5CC868" opacity="0.5"/>
<rect x="2438.5" y="494.2" width="1.9" height="41.8" fill="#4CC474" opacity="0.5"/>
<rect x="2387.2" y="652" width="286.7000000000003" height="34" fill="#74CE54" opacity="0.6"/>
<rect x="2503.2" y="674.8" width="1.5" height="10.2" fill="#44BE78" opacity="0.8"/>
<rect x="2424.6" y="678.3" width="1.5" height="8.8" fill="#44BE78" opacity="0.8"/>
<rect x="2435.5" y="666.3" width="1.5" height="8.0" fill="#44BE78" opacity="0.8"/>
<rect x="2635.8" y="664.4" width="1.5" height="7.6" fill="#44BE78" opacity="0.8"/>
<rect x="2627.9" y="674.9" width="1.5" height="10.6" fill="#44BE78" opacity="0.8"/>
<rect x="2521.2" y="671.3" width="1.5" height="4.6" fill="#44BE78" opacity="0.8"/>
<rect x="2587.5" y="675.5" width="1.5" height="8.1" fill="#44BE78" opacity="0.8"/>
<rect x="2586.4" y="660.3" width="1.5" height="10.2" fill="#44BE78" opacity="0.8"/>
<rect x="2653.9" y="679.4" width="1.5" height="7.3" fill="#44BE78" opacity="0.8"/>
<rect x="2605.2" y="663.0" width="1.5" height="10.3" fill="#44BE78" opacity="0.8"/>
<rect x="2621.9" y="663.7" width="1.5" height="3.7" fill="#44BE78" opacity="0.8"/>
<rect x="2515.4" y="668.8" width="1.5" height="9.1" fill="#44BE78" opacity="0.8"/>
<rect x="2527.3" y="655.7" width="1.5" height="9.5" fill="#44BE78" opacity="0.8"/>
<rect x="2418.6" y="675.0" width="1.5" height="4.4" fill="#44BE78" opacity="0.8"/>
<rect x="2488.2" y="674.7" width="1.5" height="4.1" fill="#44BE78" opacity="0.8"/>
<rect x="2440.4" y="667.9" width="1.5" height="8.8" fill="#44BE78" opacity="0.8"/>
<rect x="2617.8" y="672.2" width="1.5" height="10.6" fill="#44BE78" opacity="0.8"/>
<rect x="2528.6" y="678.7" width="1.5" height="3.7" fill="#44BE78" opacity="0.8"/>
<rect x="2459.0" y="668.2" width="1.5" height="5.3" fill="#44BE78" opacity="0.8"/>
<rect x="2589.3" y="671.0" width="1.5" height="7.2" fill="#44BE78" opacity="0.8"/>
<rect x="2618.8" y="669.0" width="1.5" height="5.5" fill="#44BE78" opacity="0.8"/>
<rect x="2500.1" y="676.1" width="1.5" height="10.2" fill="#44BE78" opacity="0.8"/>
<rect x="2455.7" y="676.3" width="1.5" height="10.7" fill="#44BE78" opacity="0.8"/>
<rect x="2536.8" y="669.3" width="1.5" height="4.6" fill="#44BE78" opacity="0.8"/>
<rect x="2539.8" y="667.6" width="1.5" height="7.8" fill="#44BE78" opacity="0.8"/>
<rect x="2409.3" y="679.2" width="1.5" height="7.1" fill="#44BE78" opacity="0.8"/>
<rect x="2505.0" y="675.0" width="1.5" height="7.5" fill="#44BE78" opacity="0.8"/>
<rect x="2528.3" y="672.3" width="1.5" height="3.5" fill="#44BE78" opacity="0.8"/>
<rect x="2540.5" y="665.3" width="1.5" height="10.7" fill="#44BE78" opacity="0.8"/>
<rect x="2639.2" y="661.7" width="1.5" height="6.8" fill="#44BE78" opacity="0.8"/>
<rect x="2434.8" y="665.8" width="1.5" height="9.5" fill="#44BE78" opacity="0.8"/>
<rect x="2633.4" y="666.9" width="1.5" height="5.5" fill="#44BE78" opacity="0.8"/>
<rect x="2451.3" y="670.4" width="1.5" height="10.4" fill="#44BE78" opacity="0.8"/>
<rect x="2435.4" y="674.5" width="1.5" height="3.2" fill="#44BE78" opacity="0.8"/>
<rect x="2452.0" y="660.7" width="1.5" height="8.5" fill="#44BE78" opacity="0.8"/>
<rect x="2484.9" y="663.9" width="1.5" height="8.0" fill="#44BE78" opacity="0.8"/>
<rect x="2429.1" y="673.3" width="1.5" height="4.0" fill="#44BE78" opacity="0.8"/>
<rect x="2533.2" y="661.3" width="1.5" height="4.6" fill="#44BE78" opacity="0.8"/>
<rect x="2538.3" y="665.9" width="1.5" height="6.0" fill="#44BE78" opacity="0.8"/>
<rect x="2508.3" y="668.2" width="1.5" height="4.3" fill="#44BE78" opacity="0.8"/>
<polygon points="2447.0,620.0 2454.2,598.6 2461.3,598.7 2468.5,594.0 2475.7,596.4 2482.8,590.0 2490.0,595.1 2497.2,594.5 2504.3,594.2 2511.5,591.5 2518.7,593.6 2525.8,584.4 2533.0,593.2 2540.2,585.6 2547.3,593.0 2554.5,587.2 2561.7,593.0 2568.8,587.4 2576.0,593.2 2583.2,588.7 2590.3,593.6 2597.5,587.8 2604.7,594.2 2611.8,587.8 2619.0,595.1 2626.2,593.0 2633.3,596.4 2640.5,589.6 2647.7,598.7 2654.8,594.3 2662.0,619.9 2662.0,620.1 2654.8,647.2 2647.7,641.3 2640.5,646.9 2633.3,643.6 2626.2,644.6 2619.0,644.9 2611.8,650.7 2604.7,645.8 2597.5,646.7 2590.3,646.4 2583.2,653.3 2576.0,646.8 2568.8,654.7 2561.7,647.0 2554.5,648.4 2547.3,647.0 2540.2,651.2 2533.0,646.8 2525.8,650.9 2518.7,646.4 2511.5,648.3 2504.3,645.8 2497.2,653.0 2490.0,644.9 2482.8,644.9 2475.7,643.6 2468.5,648.1 2461.3,641.3 2454.2,644.1 2447.0,620.0" fill="#A2D836"/>
<polygon points="2451.0,620.0 2457.9,602.2 2464.8,602.6 2471.7,598.0 2478.6,600.8 2485.5,599.6 2492.4,599.7 2499.3,591.0 2506.2,599.0 2513.1,591.8 2520.0,598.5 2526.9,593.5 2533.8,598.2 2540.7,596.5 2547.6,598.0 2554.5,596.1 2561.4,598.0 2568.3,590.6 2575.2,598.2 2582.1,591.1 2589.0,598.5 2595.9,595.9 2602.8,599.0 2609.7,592.7 2616.6,599.7 2623.5,592.3 2630.4,600.8 2637.3,596.1 2644.2,602.6 2651.1,599.8 2658.0,619.9 2658.0,620.1 2651.1,636.9 2644.2,637.4 2637.3,643.1 2630.4,639.2 2623.5,640.4 2616.6,640.3 2609.7,646.7 2602.8,641.0 2595.9,645.7 2589.0,641.5 2582.1,643.1 2575.2,641.8 2568.3,647.6 2561.4,642.0 2554.5,648.5 2547.6,642.0 2540.7,642.7 2533.8,641.8 2526.9,643.6 2520.0,641.5 2513.1,642.9 2506.2,641.0 2499.3,646.3 2492.4,640.3 2485.5,642.6 2478.6,639.2 2471.7,639.5 2464.8,637.4 2457.9,636.4 2451.0,620.0" fill="#BADC26"/>
<polygon points="2380.0,623.5 2384.1,603.4 2388.2,606.9 2392.4,599.8 2396.5,606.0 2400.6,600.3 2404.8,606.9 2408.9,608.1 2413.0,623.4 2413.0,623.6 2408.9,641.4 2404.8,640.1 2400.6,646.3 2396.5,641.0 2392.4,646.4 2388.2,640.1 2384.1,643.1 2380.0,623.5" fill="#A0D838"/>
<rect x="2387.2" y="694" width="286.7000000000003" height="19" fill="#A6D834"/>
<rect x="2387.2" y="693.4" width="3.2" height="19.6" fill="#BEDE28"/>
<rect x="2391.8" y="694.1" width="3.2" height="18.9" fill="#BEDE28"/>
<rect x="2396.4" y="695.8" width="3.2" height="17.2" fill="#BEDE28"/>
<rect x="2401.0" y="685.5" width="3.2" height="27.5" fill="#BEDE28"/>
<rect x="2405.6" y="694.0" width="3.2" height="19.0" fill="#BEDE28"/>
<rect x="2410.2" y="686.5" width="3.2" height="26.5" fill="#BEDE28"/>
<rect x="2414.8" y="680.6" width="3.2" height="32.4" fill="#BEDE28"/>
<rect x="2419.4" y="690.0" width="3.2" height="23.0" fill="#BEDE28"/>
<rect x="2424.0" y="684.8" width="3.2" height="28.2" fill="#BEDE28"/>
<rect x="2428.6" y="685.1" width="3.2" height="27.9" fill="#BEDE28"/>
<rect x="2433.2" y="693.6" width="3.2" height="19.4" fill="#BEDE28"/>
<rect x="2437.8" y="691.4" width="3.2" height="21.6" fill="#BEDE28"/>
<rect x="2442.4" y="689.1" width="3.2" height="23.9" fill="#BEDE28"/>
<rect x="2447.0" y="693.2" width="3.2" height="19.8" fill="#BEDE28"/>
<rect x="2451.6" y="690.3" width="3.2" height="22.7" fill="#BEDE28"/>
<rect x="2456.2" y="696.7" width="3.2" height="16.3" fill="#BEDE28"/>
<rect x="2460.8" y="694.6" width="3.2" height="18.4" fill="#BEDE28"/>
<rect x="2465.4" y="694.5" width="3.2" height="18.5" fill="#BEDE28"/>
<rect x="2470.0" y="688.0" width="3.2" height="25.0" fill="#BEDE28"/>
<rect x="2474.6" y="681.4" width="3.2" height="31.6" fill="#BEDE28"/>
<rect x="2479.2" y="684.3" width="3.2" height="28.7" fill="#BEDE28"/>
<rect x="2483.8" y="681.7" width="3.2" height="31.3" fill="#BEDE28"/>
<rect x="2488.4" y="686.8" width="3.2" height="26.2" fill="#BEDE28"/>
<rect x="2493.0" y="683.6" width="3.2" height="29.4" fill="#BEDE28"/>
<rect x="2497.6" y="692.9" width="3.2" height="20.1" fill="#BEDE28"/>
<rect x="2502.2" y="692.4" width="3.2" height="20.6" fill="#BEDE28"/>
<rect x="2506.8" y="689.4" width="3.2" height="23.6" fill="#BEDE28"/>
<rect x="2511.4" y="689.9" width="3.2" height="23.1" fill="#BEDE28"/>
<rect x="2516.0" y="693.9" width="3.2" height="19.1" fill="#BEDE28"/>
<rect x="2520.6" y="697.5" width="3.2" height="15.5" fill="#BEDE28"/>
<rect x="2525.2" y="694.3" width="3.2" height="18.7" fill="#BEDE28"/>
<rect x="2529.8" y="693.3" width="3.2" height="19.7" fill="#BEDE28"/>
<rect x="2534.4" y="690.7" width="3.2" height="22.3" fill="#BEDE28"/>
<rect x="2539.0" y="682.7" width="3.2" height="30.3" fill="#BEDE28"/>
<rect x="2543.6" y="689.0" width="3.2" height="24.0" fill="#BEDE28"/>
<rect x="2548.2" y="674.4" width="3.2" height="38.6" fill="#BEDE28"/>
<rect x="2552.8" y="674.9" width="3.2" height="38.1" fill="#BEDE28"/>
<rect x="2557.4" y="685.9" width="3.2" height="27.1" fill="#BEDE28"/>
<rect x="2562.0" y="683.6" width="3.2" height="29.4" fill="#BEDE28"/>
<rect x="2566.6" y="684.1" width="3.2" height="28.9" fill="#BEDE28"/>
<rect x="2571.2" y="691.3" width="3.2" height="21.7" fill="#BEDE28"/>
<rect x="2575.8" y="687.5" width="3.2" height="25.5" fill="#BEDE28"/>
<rect x="2580.4" y="682.1" width="3.2" height="30.9" fill="#BEDE28"/>
<rect x="2585.0" y="691.2" width="3.2" height="21.8" fill="#BEDE28"/>
<rect x="2589.6" y="684.3" width="3.2" height="28.7" fill="#BEDE28"/>
<rect x="2594.2" y="688.4" width="3.2" height="24.6" fill="#BEDE28"/>
<rect x="2598.8" y="681.1" width="3.2" height="31.9" fill="#BEDE28"/>
<rect x="2603.4" y="675.7" width="3.2" height="37.3" fill="#BEDE28"/>
<rect x="2608.0" y="682.9" width="3.2" height="30.1" fill="#BEDE28"/>
<rect x="2612.6" y="684.9" width="3.2" height="28.1" fill="#BEDE28"/>
<rect x="2617.2" y="684.4" width="3.2" height="28.6" fill="#BEDE28"/>
<rect x="2621.8" y="680.1" width="3.2" height="32.9" fill="#BEDE28"/>
<rect x="2626.4" y="688.0" width="3.2" height="25.0" fill="#BEDE28"/>
<rect x="2631.0" y="689.0" width="3.2" height="24.0" fill="#BEDE28"/>
<rect x="2635.6" y="685.6" width="3.2" height="27.4" fill="#BEDE28"/>
<rect x="2640.2" y="681.6" width="3.2" height="31.4" fill="#BEDE28"/>
<rect x="2644.8" y="688.0" width="3.2" height="25.0" fill="#BEDE28"/>
<rect x="2649.4" y="687.8" width="3.2" height="25.2" fill="#BEDE28"/>
<rect x="2654.0" y="665.7" width="3.2" height="47.3" fill="#BEDE28"/>
<rect x="2658.6" y="670.7" width="3.2" height="42.3" fill="#BEDE28"/>
<rect x="2663.2" y="663.0" width="3.2" height="50.0" fill="#BEDE28"/>
<rect x="2667.8" y="666.4" width="3.2" height="46.6" fill="#BEDE28"/>
<rect x="2672.4" y="660.0" width="3.2" height="53.0" fill="#BEDE28"/>
<rect x="2387.2" y="713" width="286.7000000000003" height="15" fill="#78D252"/>
<rect x="2407.2" y="719" width="226.70000000000027" height="3" fill="#58C66C"/>
</g></g>
<rect x="199.5" y="811" width="2690.5" height="13.6" fill="#000"/>
<rect x="546.2" y="869.7" width="382.2" height="215.8" fill="#FFC000" stroke="#E0A400" stroke-width="1.5"/>
<rect x="2176.5" y="868" width="381" height="216" fill="#00B0F0" stroke="#000" stroke-width="3.5"/>
<rect x="221.5" y="1260.8" width="381.70000000000005" height="88.2" fill="#FADCCE" stroke="#7F7F7F" stroke-width="1.6"/>
<rect x="1898.2" y="1260.8" width="381.79999999999995" height="88.2" fill="#FADCCE" stroke="#7F7F7F" stroke-width="1.6"/>
<rect x="881" y="1261" width="351" height="87" fill="#FFF1D0" stroke="#2F5597" stroke-width="3"/>
<rect x="2516.8" y="1261" width="350.6999999999998" height="87" fill="#FFF1D0" stroke="#2F5597" stroke-width="3"/>
<rect x="808" y="1941" width="586" height="183.5" fill="#AFABAB" stroke="#C9A02C" stroke-width="1.8"/>
<rect x="2389.2" y="1941.5" width="586.3" height="180" fill="#C19C82" stroke="#000" stroke-width="3.5"/>
<path d="M738,1085.5 V1172.8 M411.8,1222 V1172.8 H1057 V1222" fill="none" stroke="#000" stroke-width="2.5"/>
<polygon points="392.8,1222 430.8,1222 411.8,1260" fill="#000"/>
<polygon points="1038,1222 1076,1222 1057,1260" fill="#000"/>
<path d="M2367.6,1085.5 V1172.8 M2089,1222 V1172.8 H2691.8 V1222" fill="none" stroke="#000" stroke-width="2.5"/>
<polygon points="2070,1222 2108,1222 2089,1260" fill="#000"/>
<polygon points="2672.8,1222 2710.8,1222 2691.8,1260" fill="#000"/>
<line x1="410.5" y1="1349" x2="408.5" y2="1457" stroke="#000" stroke-width="2"/>
<polygon points="389.5,1455 427.5,1455 408.5,1493" fill="#000"/>
<line x1="1057" y1="1349" x2="1059" y2="1464" stroke="#000" stroke-width="2"/>
<polygon points="1040,1462 1078,1462 1059,1500" fill="#000"/>
<line x1="2089" y1="1349" x2="2092" y2="1464" stroke="#000" stroke-width="2"/>
<polygon points="2073,1462 2111,1462 2092,1500" fill="#000"/>
<line x1="2692" y1="1349" x2="2693.7" y2="1434.7" stroke="#000" stroke-width="2"/>
<polygon points="2674.7,1432.7 2712.7,1432.7 2693.7,1470.7" fill="#000"/>
<line x1="1102" y1="1782" x2="1102" y2="1905.5" stroke="#000" stroke-width="2"/>
<polygon points="1083,1903.5 1121,1903.5 1102,1940.5" fill="#000"/>
<line x1="2686.2" y1="1792.5" x2="2683.5" y2="1903" stroke="#000" stroke-width="2"/>
<polygon points="2664.5,1901 2702.5,1901 2683.5,1939" fill="#000"/>
<line x1="613.7" y1="1625.3" x2="816" y2="1625.3" stroke="#000" stroke-width="2"/>
<polygon points="814,1606.7 814,1643.8999999999999 851,1625.3" fill="#000"/>
<line x1="2294.4" y1="1623" x2="2509" y2="1623" stroke="#000" stroke-width="2"/>
<polygon points="2507,1604 2507,1642 2545,1623" fill="#000"/>
<polygon points="1243.5,1614.0 1368.5,1614.0 1368.5,1602.5 1391,1624.5 1368.5,1646.5 1368.5,1635.0 1243.5,1635.0" fill="#4472C4" stroke="#2F528F" stroke-width="1.5"/>
<polygon points="1731,1619.5 1858.5,1619.5 1858.5,1608 1880.6,1630 1858.5,1652 1858.5,1640.5 1731,1640.5" fill="#4472C4" stroke="#2F528F" stroke-width="1.5"/>
<path d="M280.9,1485.9 L336.4,1525.3 M280.9,1485.9 L340.5,1614.5 M280.9,1485.9 L340.5,1658.7 M280.9,1485.9 L340.5,1702.6 M280.9,1485.9 L340.5,1747.2 M280.9,1529.9 L336.4,1525.3 M280.9,1529.9 L340.5,1614.5 M280.9,1529.9 L340.5,1658.7 M280.9,1529.9 L340.5,1702.6 M280.9,1529.9 L340.5,1747.2 M280.9,1569.9 L336.4,1525.3 M280.9,1569.9 L340.5,1614.5 M280.9,1569.9 L340.5,1658.7 M280.9,1569.9 L340.5,1702.6 M280.9,1569.9 L340.5,1747.2 M280.9,1614.5 L340.5,1658.7 M280.9,1658.7 L340.5,1658.7 M280.9,1702.6 L336.4,1525.3 M280.9,1702.6 L336.4,1569.9 M280.9,1702.6 L340.5,1614.5 M280.9,1702.6 L340.5,1658.7 M280.9,1747.2 L336.4,1569.9 M280.9,1747.2 L340.5,1614.5 M280.9,1747.2 L340.5,1658.7 M280.9,1747.2 L340.5,1702.6 M280.9,1791.8 L340.5,1614.5 M280.9,1791.8 L340.5,1658.7 M280.9,1791.8 L340.5,1702.6 M280.9,1791.8 L340.5,1747.2 M367.6,1525.3 L406.9,1544.0 M367.6,1525.3 L411.4,1588.2 M367.6,1525.3 L411.4,1633.2 M367.6,1525.3 L411.4,1676.7 M367.6,1569.9 L406.9,1544.0 M367.6,1569.9 L411.4,1588.2 M367.6,1569.9 L411.4,1633.2 M367.6,1569.9 L411.4,1676.7 M367.6,1569.9 L411.4,1721.7 M371.7,1614.5 L411.4,1633.2 M371.7,1614.5 L411.4,1676.7 M371.7,1658.7 L411.4,1588.2 M371.7,1658.7 L411.4,1633.2 M371.7,1658.7 L411.4,1676.7 M371.7,1658.7 L411.4,1721.7 M371.7,1702.6 L411.4,1633.2 M371.7,1702.6 L411.4,1676.7 M371.7,1702.6 L411.4,1721.7 M371.7,1747.2 L411.4,1633.2 M371.7,1747.2 L411.4,1676.7 M438.1,1544.0 L472.8,1561.6 M438.1,1544.0 L472.8,1606.2 M438.1,1544.0 L472.8,1695.4 M442.6,1588.2 L472.8,1561.6 M442.6,1588.2 L472.8,1606.2 M442.6,1588.2 L472.8,1650.4 M442.6,1588.2 L472.8,1695.4 M442.6,1633.2 L472.8,1561.6 M442.6,1633.2 L472.8,1606.2 M442.6,1633.2 L472.8,1650.4 M442.6,1633.2 L472.8,1695.4 M442.6,1676.7 L472.8,1561.6 M442.6,1676.7 L472.8,1606.2 M442.6,1676.7 L472.8,1650.4 M442.6,1676.7 L472.8,1695.4 M442.6,1721.7 L472.8,1561.6 M442.6,1721.7 L472.8,1650.4 M442.6,1721.7 L472.8,1695.4 M505.4,1561.6 L525.1,1547.0 M505.4,1695.4 L525.1,1708.0 M545.9,1543.0 L565.2,1593.0 M545.9,1709.0 L565.2,1649.0" fill="none" stroke="#2c2c2c" stroke-width="1.2"/>
<ellipse cx="265.3" cy="1485.9" rx="17.0" ry="14.5" fill="#FFC000" stroke="#141400" stroke-width="2"/>
<ellipse cx="265.3" cy="1529.9" rx="17.0" ry="14.5" fill="#FFC000" stroke="#141400" stroke-width="2"/>
<ellipse cx="265.3" cy="1569.9" rx="17.0" ry="14.5" fill="#FFC000" stroke="#141400" stroke-width="2"/>
<ellipse cx="265.3" cy="1614.5" rx="17.0" ry="14.5" fill="#FFC000" stroke="#141400" stroke-width="2"/>
<ellipse cx="265.3" cy="1658.7" rx="17.0" ry="14.5" fill="#FFC000" stroke="#141400" stroke-width="2"/>
<ellipse cx="265.3" cy="1702.6" rx="17.0" ry="14.5" fill="#FFC000" stroke="#141400" stroke-width="2"/>
<ellipse cx="265.3" cy="1747.2" rx="17.0" ry="14.5" fill="#FFC000" stroke="#141400" stroke-width="2"/>
<ellipse cx="265.3" cy="1791.8" rx="17.0" ry="14.5" fill="#FFC000" stroke="#141400" stroke-width="2"/>
<ellipse cx="352.0" cy="1525.3" rx="17.0" ry="14.5" fill="#FFC000" stroke="#141400" stroke-width="2"/>
<ellipse cx="352.0" cy="1569.9" rx="17.0" ry="14.5" fill="#FFC000" stroke="#141400" stroke-width="2"/>
<ellipse cx="356.1" cy="1614.5" rx="17.0" ry="14.5" fill="#FFC000" stroke="#141400" stroke-width="2"/>
<ellipse cx="356.1" cy="1658.7" rx="17.0" ry="14.5" fill="#FFC000" stroke="#141400" stroke-width="2"/>
<ellipse cx="356.1" cy="1702.6" rx="17.0" ry="14.5" fill="#FFC000" stroke="#141400" stroke-width="2"/>
<ellipse cx="356.1" cy="1747.2" rx="17.0" ry="14.5" fill="#FFC000" stroke="#141400" stroke-width="2"/>
<ellipse cx="422.5" cy="1544.0" rx="17.0" ry="14.5" fill="#FFC000" stroke="#141400" stroke-width="2"/>
<ellipse cx="427.0" cy="1588.2" rx="17.0" ry="14.5" fill="#FFC000" stroke="#141400" stroke-width="2"/>
<ellipse cx="427.0" cy="1633.2" rx="17.0" ry="14.5" fill="#FFC000" stroke="#141400" stroke-width="2"/>
<ellipse cx="427.0" cy="1676.7" rx="17.0" ry="14.5" fill="#FFC000" stroke="#141400" stroke-width="2"/>
<ellipse cx="427.0" cy="1721.7" rx="17.0" ry="14.5" fill="#FFC000" stroke="#141400" stroke-width="2"/>
<ellipse cx="488.4" cy="1561.6" rx="17.0" ry="14.5" fill="#FFC000" stroke="#141400" stroke-width="2"/>
<ellipse cx="488.4" cy="1606.2" rx="17.0" ry="14.5" fill="#FFC000" stroke="#141400" stroke-width="2"/>
<ellipse cx="488.4" cy="1650.4" rx="17.0" ry="14.5" fill="#FFC000" stroke="#141400" stroke-width="2"/>
<ellipse cx="488.4" cy="1695.4" rx="17.0" ry="14.5" fill="#FFC000" stroke="#141400" stroke-width="2"/>
<rect x="525.1" y="1533.0" width="20.8" height="23.8" fill="#FFC000" stroke="#1a1400" stroke-width="2"/>
<rect x="525.1" y="1556.8" width="20.8" height="23.8" fill="#FFC000" stroke="#1a1400" stroke-width="2"/>
<rect x="525.1" y="1580.5" width="20.8" height="23.8" fill="#FFC000" stroke="#1a1400" stroke-width="2"/>
<rect x="525.1" y="1604.2" width="20.8" height="23.8" fill="#FFC000" stroke="#1a1400" stroke-width="2"/>
<rect x="525.1" y="1628.0" width="20.8" height="23.8" fill="#FFC000" stroke="#1a1400" stroke-width="2"/>
<rect x="525.1" y="1651.8" width="20.8" height="23.8" fill="#FFC000" stroke="#1a1400" stroke-width="2"/>
<rect x="525.1" y="1675.5" width="20.8" height="23.8" fill="#FFC000" stroke="#1a1400" stroke-width="2"/>
<rect x="525.1" y="1699.2" width="20.8" height="23.8" fill="#FFC000" stroke="#1a1400" stroke-width="2"/>
<line x1="525.1" y1="1580.5" x2="545.9" y2="1580.5" stroke="#100c00" stroke-width="3.2"/>
<line x1="525.1" y1="1604.2" x2="545.9" y2="1604.2" stroke="#100c00" stroke-width="3.2"/>
<line x1="525.1" y1="1628.0" x2="545.9" y2="1628.0" stroke="#100c00" stroke-width="3.2"/>
<line x1="525.1" y1="1675.5" x2="545.9" y2="1675.5" stroke="#100c00" stroke-width="3.2"/>
<line x1="525.1" y1="1699.2" x2="545.9" y2="1699.2" stroke="#100c00" stroke-width="3.2"/>
<rect x="565.2" y="1585.9" width="19.5" height="23.2" fill="#FFC000" stroke="#1a1400" stroke-width="2"/>
<rect x="565.2" y="1609.1" width="19.5" height="23.2" fill="#FFC000" stroke="#1a1400" stroke-width="2"/>
<rect x="565.2" y="1632.4" width="19.5" height="23.2" fill="#FFC000" stroke="#1a1400" stroke-width="2"/>
<line x1="565.2" y1="1609.1" x2="584.7" y2="1609.1" stroke="#100c00" stroke-width="3"/>
<line x1="565.2" y1="1632.4" x2="584.7" y2="1632.4" stroke="#100c00" stroke-width="3"/>
<path d="M925.7,1485.9 L980.5,1525.2 M925.7,1485.9 L984.5,1614.2 M925.7,1485.9 L984.5,1658.4 M925.7,1485.9 L984.5,1702.2 M925.7,1485.9 L984.5,1746.7 M925.7,1529.8 L980.5,1525.2 M925.7,1529.8 L984.5,1614.2 M925.7,1529.8 L984.5,1658.4 M925.7,1529.8 L984.5,1702.2 M925.7,1529.8 L984.5,1746.7 M925.7,1569.7 L980.5,1525.2 M925.7,1569.7 L984.5,1614.2 M925.7,1569.7 L984.5,1658.4 M925.7,1569.7 L984.5,1702.2 M925.7,1569.7 L984.5,1746.7 M925.7,1614.2 L984.5,1658.4 M925.7,1658.4 L984.5,1658.4 M925.7,1702.2 L980.5,1525.2 M925.7,1702.2 L980.5,1569.7 M925.7,1702.2 L984.5,1614.2 M925.7,1702.2 L984.5,1658.4 M925.7,1746.7 L980.5,1569.7 M925.7,1746.7 L984.5,1614.2 M925.7,1746.7 L984.5,1658.4 M925.7,1746.7 L984.5,1702.2 M925.7,1791.2 L984.5,1614.2 M925.7,1791.2 L984.5,1658.4 M925.7,1791.2 L984.5,1702.2 M925.7,1791.2 L984.5,1746.7 M1011.4,1525.2 L1050.1,1543.9 M1011.4,1525.2 L1054.5,1588.0 M1011.4,1525.2 L1054.5,1632.9 M1011.4,1525.2 L1054.5,1676.3 M1011.4,1569.7 L1050.1,1543.9 M1011.4,1569.7 L1054.5,1588.0 M1011.4,1569.7 L1054.5,1632.9 M1011.4,1569.7 L1054.5,1676.3 M1011.4,1569.7 L1054.5,1721.2 M1015.4,1614.2 L1054.5,1632.9 M1015.4,1614.2 L1054.5,1676.3 M1015.4,1658.4 L1054.5,1588.0 M1015.4,1658.4 L1054.5,1632.9 M1015.4,1658.4 L1054.5,1676.3 M1015.4,1658.4 L1054.5,1721.2 M1015.4,1702.2 L1054.5,1632.9 M1015.4,1702.2 L1054.5,1676.3 M1015.4,1702.2 L1054.5,1721.2 M1015.4,1746.7 L1054.5,1632.9 M1015.4,1746.7 L1054.5,1676.3 M1081.0,1543.9 L1115.2,1561.4 M1081.0,1543.9 L1115.2,1606.0 M1081.0,1543.9 L1115.2,1695.0 M1085.4,1588.0 L1115.2,1561.4 M1085.4,1588.0 L1115.2,1606.0 M1085.4,1588.0 L1115.2,1650.1 M1085.4,1588.0 L1115.2,1695.0 M1085.4,1632.9 L1115.2,1561.4 M1085.4,1632.9 L1115.2,1606.0 M1085.4,1632.9 L1115.2,1650.1 M1085.4,1632.9 L1115.2,1695.0 M1085.4,1676.3 L1115.2,1561.4 M1085.4,1676.3 L1115.2,1606.0 M1085.4,1676.3 L1115.2,1650.1 M1085.4,1676.3 L1115.2,1695.0 M1085.4,1721.2 L1115.2,1561.4 M1085.4,1721.2 L1115.2,1650.1 M1085.4,1721.2 L1115.2,1695.0 M1147.4,1561.4 L1166.9,1546.9 M1147.4,1695.0 L1166.9,1707.6 M1187.4,1542.9 L1206.5,1592.8 M1187.4,1708.6 L1206.5,1648.7" fill="none" stroke="#2c2c2c" stroke-width="1.2"/>
<ellipse cx="910.3" cy="1485.9" rx="16.8" ry="14.5" fill="#92D050" stroke="#141400" stroke-width="2"/>
<ellipse cx="910.3" cy="1529.8" rx="16.8" ry="14.5" fill="#92D050" stroke="#141400" stroke-width="2"/>
<ellipse cx="910.3" cy="1569.7" rx="16.8" ry="14.5" fill="#92D050" stroke="#141400" stroke-width="2"/>
<ellipse cx="910.3" cy="1614.2" rx="16.8" ry="14.5" fill="#92D050" stroke="#141400" stroke-width="2"/>
<ellipse cx="910.3" cy="1658.4" rx="16.8" ry="14.5" fill="#92D050" stroke="#141400" stroke-width="2"/>
<ellipse cx="910.3" cy="1702.2" rx="16.8" ry="14.5" fill="#92D050" stroke="#141400" stroke-width="2"/>
<ellipse cx="910.3" cy="1746.7" rx="16.8" ry="14.5" fill="#92D050" stroke="#141400" stroke-width="2"/>
<ellipse cx="910.3" cy="1791.2" rx="16.8" ry="14.5" fill="#92D050" stroke="#141400" stroke-width="2"/>
<ellipse cx="995.9" cy="1525.2" rx="16.8" ry="14.5" fill="#92D050" stroke="#141400" stroke-width="2"/>
<ellipse cx="995.9" cy="1569.7" rx="16.8" ry="14.5" fill="#92D050" stroke="#141400" stroke-width="2"/>
<ellipse cx="1000.0" cy="1614.2" rx="16.8" ry="14.5" fill="#92D050" stroke="#141400" stroke-width="2"/>
<ellipse cx="1000.0" cy="1658.4" rx="16.8" ry="14.5" fill="#92D050" stroke="#141400" stroke-width="2"/>
<ellipse cx="1000.0" cy="1702.2" rx="16.8" ry="14.5" fill="#92D050" stroke="#141400" stroke-width="2"/>
<ellipse cx="1000.0" cy="1746.7" rx="16.8" ry="14.5" fill="#92D050" stroke="#141400" stroke-width="2"/>
<ellipse cx="1065.5" cy="1543.9" rx="16.8" ry="14.5" fill="#92D050" stroke="#141400" stroke-width="2"/>
<ellipse cx="1070.0" cy="1588.0" rx="16.8" ry="14.5" fill="#92D050" stroke="#141400" stroke-width="2"/>
<ellipse cx="1070.0" cy="1632.9" rx="16.8" ry="14.5" fill="#92D050" stroke="#141400" stroke-width="2"/>
<ellipse cx="1070.0" cy="1676.3" rx="16.8" ry="14.5" fill="#92D050" stroke="#141400" stroke-width="2"/>
<ellipse cx="1070.0" cy="1721.2" rx="16.8" ry="14.5" fill="#92D050" stroke="#141400" stroke-width="2"/>
<ellipse cx="1130.6" cy="1561.4" rx="16.8" ry="14.5" fill="#92D050" stroke="#141400" stroke-width="2"/>
<ellipse cx="1130.6" cy="1606.0" rx="16.8" ry="14.5" fill="#92D050" stroke="#141400" stroke-width="2"/>
<ellipse cx="1130.6" cy="1650.1" rx="16.8" ry="14.5" fill="#92D050" stroke="#141400" stroke-width="2"/>
<ellipse cx="1130.6" cy="1695.0" rx="16.8" ry="14.5" fill="#92D050" stroke="#141400" stroke-width="2"/>
<rect x="1166.9" y="1532.9" width="20.5" height="23.7" fill="#92D050" stroke="#1a1400" stroke-width="2"/>
<rect x="1166.9" y="1556.6" width="20.5" height="23.7" fill="#92D050" stroke="#1a1400" stroke-width="2"/>
<rect x="1166.9" y="1580.3" width="20.5" height="23.7" fill="#92D050" stroke="#1a1400" stroke-width="2"/>
<rect x="1166.9" y="1604.0" width="20.5" height="23.7" fill="#92D050" stroke="#1a1400" stroke-width="2"/>
<rect x="1166.9" y="1627.7" width="20.5" height="23.7" fill="#92D050" stroke="#1a1400" stroke-width="2"/>
<rect x="1166.9" y="1651.4" width="20.5" height="23.7" fill="#92D050" stroke="#1a1400" stroke-width="2"/>
<rect x="1166.9" y="1675.1" width="20.5" height="23.7" fill="#92D050" stroke="#1a1400" stroke-width="2"/>
<rect x="1166.9" y="1698.8" width="20.5" height="23.7" fill="#92D050" stroke="#1a1400" stroke-width="2"/>
<line x1="1166.9" y1="1580.3" x2="1187.4" y2="1580.3" stroke="#100c00" stroke-width="3.2"/>
<line x1="1166.9" y1="1604.0" x2="1187.4" y2="1604.0" stroke="#100c00" stroke-width="3.2"/>
<line x1="1166.9" y1="1627.7" x2="1187.4" y2="1627.7" stroke="#100c00" stroke-width="3.2"/>
<line x1="1166.9" y1="1675.1" x2="1187.4" y2="1675.1" stroke="#100c00" stroke-width="3.2"/>
<line x1="1166.9" y1="1698.8" x2="1187.4" y2="1698.8" stroke="#100c00" stroke-width="3.2"/>
<rect x="1206.5" y="1585.7" width="19.3" height="23.2" fill="#92D050" stroke="#1a1400" stroke-width="2"/>
<rect x="1206.5" y="1608.9" width="19.3" height="23.2" fill="#92D050" stroke="#1a1400" stroke-width="2"/>
<rect x="1206.5" y="1632.1" width="19.3" height="23.2" fill="#92D050" stroke="#1a1400" stroke-width="2"/>
<line x1="1206.5" y1="1608.9" x2="1225.7" y2="1608.9" stroke="#100c00" stroke-width="3"/>
<line x1="1206.5" y1="1632.1" x2="1225.7" y2="1632.1" stroke="#100c00" stroke-width="3"/>
<path d="M1981.8,1476.3 L2036.9,1515.6 M1981.8,1476.3 L2041.0,1604.5 M1981.8,1476.3 L2041.0,1648.6 M1981.8,1476.3 L2041.0,1692.3 M1981.8,1476.3 L2041.0,1736.8 M1981.8,1520.2 L2036.9,1515.6 M1981.8,1520.2 L2041.0,1604.5 M1981.8,1520.2 L2041.0,1648.6 M1981.8,1520.2 L2041.0,1692.3 M1981.8,1520.2 L2041.0,1736.8 M1981.8,1560.0 L2036.9,1515.6 M1981.8,1560.0 L2041.0,1604.5 M1981.8,1560.0 L2041.0,1648.6 M1981.8,1560.0 L2041.0,1692.3 M1981.8,1560.0 L2041.0,1736.8 M1981.8,1604.5 L2041.0,1648.6 M1981.8,1648.6 L2041.0,1648.6 M1981.8,1692.3 L2036.9,1515.6 M1981.8,1692.3 L2036.9,1560.0 M1981.8,1692.3 L2041.0,1604.5 M1981.8,1692.3 L2041.0,1648.6 M1981.8,1736.8 L2036.9,1560.0 M1981.8,1736.8 L2041.0,1604.5 M1981.8,1736.8 L2041.0,1648.6 M1981.8,1736.8 L2041.0,1692.3 M1981.8,1781.3 L2041.0,1604.5 M1981.8,1781.3 L2041.0,1648.6 M1981.8,1781.3 L2041.0,1692.3 M1981.8,1781.3 L2041.0,1736.8 M2068.0,1515.6 L2107.0,1534.2 M2068.0,1515.6 L2111.5,1578.3 M2068.0,1515.6 L2111.5,1623.2 M2068.0,1515.6 L2111.5,1666.5 M2068.0,1560.0 L2107.0,1534.2 M2068.0,1560.0 L2111.5,1578.3 M2068.0,1560.0 L2111.5,1623.2 M2068.0,1560.0 L2111.5,1666.5 M2068.0,1560.0 L2111.5,1711.4 M2072.1,1604.5 L2111.5,1623.2 M2072.1,1604.5 L2111.5,1666.5 M2072.1,1648.6 L2111.5,1578.3 M2072.1,1648.6 L2111.5,1623.2 M2072.1,1648.6 L2111.5,1666.5 M2072.1,1648.6 L2111.5,1711.4 M2072.1,1692.3 L2111.5,1623.2 M2072.1,1692.3 L2111.5,1666.5 M2072.1,1692.3 L2111.5,1711.4 M2072.1,1736.8 L2111.5,1623.2 M2072.1,1736.8 L2111.5,1666.5 M2138.1,1534.2 L2172.5,1551.8 M2138.1,1534.2 L2172.5,1596.2 M2138.1,1534.2 L2172.5,1685.2 M2142.6,1578.3 L2172.5,1551.8 M2142.6,1578.3 L2172.5,1596.2 M2142.6,1578.3 L2172.5,1640.3 M2142.6,1578.3 L2172.5,1685.2 M2142.6,1623.2 L2172.5,1551.8 M2142.6,1623.2 L2172.5,1596.2 M2142.6,1623.2 L2172.5,1640.3 M2142.6,1623.2 L2172.5,1685.2 M2142.6,1666.5 L2172.5,1551.8 M2142.6,1666.5 L2172.5,1596.2 M2142.6,1666.5 L2172.5,1640.3 M2142.6,1666.5 L2172.5,1685.2 M2142.6,1711.4 L2172.5,1551.8 M2142.6,1711.4 L2172.5,1640.3 M2142.6,1711.4 L2172.5,1685.2 M2205.0,1551.8 L2224.5,1537.2 M2205.0,1685.2 L2224.5,1697.7 M2245.2,1533.2 L2264.4,1583.1 M2245.2,1698.7 L2264.4,1638.9" fill="none" stroke="#2c2c2c" stroke-width="1.2"/>
<ellipse cx="1966.3" cy="1476.3" rx="16.9" ry="14.5" fill="#92D050" stroke="#141400" stroke-width="2"/>
<ellipse cx="1966.3" cy="1520.2" rx="16.9" ry="14.5" fill="#92D050" stroke="#141400" stroke-width="2"/>
<ellipse cx="1966.3" cy="1560.0" rx="16.9" ry="14.5" fill="#92D050" stroke="#141400" stroke-width="2"/>
<ellipse cx="1966.3" cy="1604.5" rx="16.9" ry="14.5" fill="#92D050" stroke="#141400" stroke-width="2"/>
<ellipse cx="1966.3" cy="1648.6" rx="16.9" ry="14.5" fill="#92D050" stroke="#141400" stroke-width="2"/>
<ellipse cx="1966.3" cy="1692.3" rx="16.9" ry="14.5" fill="#92D050" stroke="#141400" stroke-width="2"/>
<ellipse cx="1966.3" cy="1736.8" rx="16.9" ry="14.5" fill="#92D050" stroke="#141400" stroke-width="2"/>
<ellipse cx="1966.3" cy="1781.3" rx="16.9" ry="14.5" fill="#92D050" stroke="#141400" stroke-width="2"/>
<ellipse cx="2052.5" cy="1515.6" rx="16.9" ry="14.5" fill="#92D050" stroke="#141400" stroke-width="2"/>
<ellipse cx="2052.5" cy="1560.0" rx="16.9" ry="14.5" fill="#92D050" stroke="#141400" stroke-width="2"/>
<ellipse cx="2056.6" cy="1604.5" rx="16.9" ry="14.5" fill="#92D050" stroke="#141400" stroke-width="2"/>
<ellipse cx="2056.6" cy="1648.6" rx="16.9" ry="14.5" fill="#92D050" stroke="#141400" stroke-width="2"/>
<ellipse cx="2056.6" cy="1692.3" rx="16.9" ry="14.5" fill="#92D050" stroke="#141400" stroke-width="2"/>
<ellipse cx="2056.6" cy="1736.8" rx="16.9" ry="14.5" fill="#92D050" stroke="#141400" stroke-width="2"/>
<ellipse cx="2122.6" cy="1534.2" rx="16.9" ry="14.5" fill="#92D050" stroke="#141400" stroke-width="2"/>
<ellipse cx="2127.0" cy="1578.3" rx="16.9" ry="14.5" fill="#92D050" stroke="#141400" stroke-width="2"/>
<ellipse cx="2127.0" cy="1623.2" rx="16.9" ry="14.5" fill="#92D050" stroke="#141400" stroke-width="2"/>
<ellipse cx="2127.0" cy="1666.5" rx="16.9" ry="14.5" fill="#92D050" stroke="#141400" stroke-width="2"/>
<ellipse cx="2127.0" cy="1711.4" rx="16.9" ry="14.5" fill="#92D050" stroke="#141400" stroke-width="2"/>
<ellipse cx="2188.1" cy="1551.8" rx="16.9" ry="14.5" fill="#92D050" stroke="#141400" stroke-width="2"/>
<ellipse cx="2188.1" cy="1596.2" rx="16.9" ry="14.5" fill="#92D050" stroke="#141400" stroke-width="2"/>
<ellipse cx="2188.1" cy="1640.3" rx="16.9" ry="14.5" fill="#92D050" stroke="#141400" stroke-width="2"/>
<ellipse cx="2188.1" cy="1685.2" rx="16.9" ry="14.5" fill="#92D050" stroke="#141400" stroke-width="2"/>
<rect x="2224.5" y="1523.3" width="20.7" height="23.7" fill="#92D050" stroke="#1a1400" stroke-width="2"/>
<rect x="2224.5" y="1546.9" width="20.7" height="23.7" fill="#92D050" stroke="#1a1400" stroke-width="2"/>
<rect x="2224.5" y="1570.6" width="20.7" height="23.7" fill="#92D050" stroke="#1a1400" stroke-width="2"/>
<rect x="2224.5" y="1594.3" width="20.7" height="23.7" fill="#92D050" stroke="#1a1400" stroke-width="2"/>
<rect x="2224.5" y="1618.0" width="20.7" height="23.7" fill="#92D050" stroke="#1a1400" stroke-width="2"/>
<rect x="2224.5" y="1641.7" width="20.7" height="23.7" fill="#92D050" stroke="#1a1400" stroke-width="2"/>
<rect x="2224.5" y="1665.3" width="20.7" height="23.7" fill="#92D050" stroke="#1a1400" stroke-width="2"/>
<rect x="2224.5" y="1689.0" width="20.7" height="23.7" fill="#92D050" stroke="#1a1400" stroke-width="2"/>
<line x1="2224.5" y1="1570.6" x2="2245.2" y2="1570.6" stroke="#100c00" stroke-width="3.2"/>
<line x1="2224.5" y1="1594.3" x2="2245.2" y2="1594.3" stroke="#100c00" stroke-width="3.2"/>
<line x1="2224.5" y1="1618.0" x2="2245.2" y2="1618.0" stroke="#100c00" stroke-width="3.2"/>
<line x1="2224.5" y1="1665.3" x2="2245.2" y2="1665.3" stroke="#100c00" stroke-width="3.2"/>
<line x1="2224.5" y1="1689.0" x2="2245.2" y2="1689.0" stroke="#100c00" stroke-width="3.2"/>
<rect x="2264.4" y="1576.0" width="19.4" height="23.2" fill="#92D050" stroke="#1a1400" stroke-width="2"/>
<rect x="2264.4" y="1599.2" width="19.4" height="23.2" fill="#92D050" stroke="#1a1400" stroke-width="2"/>
<rect x="2264.4" y="1622.3" width="19.4" height="23.2" fill="#92D050" stroke="#1a1400" stroke-width="2"/>
<line x1="2264.4" y1="1599.2" x2="2283.8" y2="1599.2" stroke="#100c00" stroke-width="3"/>
<line x1="2264.4" y1="1622.3" x2="2283.8" y2="1622.3" stroke="#100c00" stroke-width="3"/>
<path d="M2608.9,1464.6 L2667.4,1506.3 M2608.9,1464.6 L2671.7,1600.8 M2608.9,1464.6 L2671.7,1647.6 M2608.9,1464.6 L2671.7,1694.1 M2608.9,1464.6 L2671.7,1741.3 M2608.9,1511.2 L2667.4,1506.3 M2608.9,1511.2 L2671.7,1600.8 M2608.9,1511.2 L2671.7,1647.6 M2608.9,1511.2 L2671.7,1694.1 M2608.9,1511.2 L2671.7,1741.3 M2608.9,1553.6 L2667.4,1506.3 M2608.9,1553.6 L2671.7,1600.8 M2608.9,1553.6 L2671.7,1647.6 M2608.9,1553.6 L2671.7,1694.1 M2608.9,1553.6 L2671.7,1741.3 M2608.9,1600.8 L2671.7,1647.6 M2608.9,1647.6 L2671.7,1647.6 M2608.9,1694.1 L2667.4,1506.3 M2608.9,1694.1 L2667.4,1553.6 M2608.9,1694.1 L2671.7,1600.8 M2608.9,1694.1 L2671.7,1647.6 M2608.9,1741.3 L2667.4,1553.6 M2608.9,1741.3 L2671.7,1600.8 M2608.9,1741.3 L2671.7,1647.6 M2608.9,1741.3 L2671.7,1694.1 M2608.9,1788.5 L2671.7,1600.8 M2608.9,1788.5 L2671.7,1647.6 M2608.9,1788.5 L2671.7,1694.1 M2608.9,1788.5 L2671.7,1741.3 M2700.4,1506.3 L2741.8,1526.1 M2700.4,1506.3 L2746.6,1572.9 M2700.4,1506.3 L2746.6,1620.6 M2700.4,1506.3 L2746.6,1666.7 M2700.4,1553.6 L2741.8,1526.1 M2700.4,1553.6 L2746.6,1572.9 M2700.4,1553.6 L2746.6,1620.6 M2700.4,1553.6 L2746.6,1666.7 M2700.4,1553.6 L2746.6,1714.3 M2704.8,1600.8 L2746.6,1620.6 M2704.8,1600.8 L2746.6,1666.7 M2704.8,1647.6 L2746.6,1572.9 M2704.8,1647.6 L2746.6,1620.6 M2704.8,1647.6 L2746.6,1666.7 M2704.8,1647.6 L2746.6,1714.3 M2704.8,1694.1 L2746.6,1620.6 M2704.8,1694.1 L2746.6,1666.7 M2704.8,1694.1 L2746.6,1714.3 M2704.8,1741.3 L2746.6,1620.6 M2704.8,1741.3 L2746.6,1666.7 M2774.8,1526.1 L2811.4,1544.8 M2774.8,1526.1 L2811.4,1592.0 M2774.8,1526.1 L2811.4,1686.5 M2779.6,1572.9 L2811.4,1544.8 M2779.6,1572.9 L2811.4,1592.0 M2779.6,1572.9 L2811.4,1638.8 M2779.6,1572.9 L2811.4,1686.5 M2779.6,1620.6 L2811.4,1544.8 M2779.6,1620.6 L2811.4,1592.0 M2779.6,1620.6 L2811.4,1638.8 M2779.6,1620.6 L2811.4,1686.5 M2779.6,1666.7 L2811.4,1544.8 M2779.6,1666.7 L2811.4,1592.0 M2779.6,1666.7 L2811.4,1638.8 M2779.6,1666.7 L2811.4,1686.5 M2779.6,1714.3 L2811.4,1544.8 M2779.6,1714.3 L2811.4,1638.8 M2779.6,1714.3 L2811.4,1686.5 M2845.8,1544.8 L2866.6,1529.3 M2845.8,1686.5 L2866.6,1699.8 M2888.6,1525.1 L2909.0,1578.0 M2888.6,1700.9 L2909.0,1637.3" fill="none" stroke="#2c2c2c" stroke-width="1.2"/>
<ellipse cx="2592.4" cy="1464.6" rx="17.9" ry="15.4" fill="#92D050" stroke="#141400" stroke-width="2"/>
<ellipse cx="2592.4" cy="1511.2" rx="17.9" ry="15.4" fill="#92D050" stroke="#141400" stroke-width="2"/>
<ellipse cx="2592.4" cy="1553.6" rx="17.9" ry="15.4" fill="#92D050" stroke="#141400" stroke-width="2"/>
<ellipse cx="2592.4" cy="1600.8" rx="17.9" ry="15.4" fill="#92D050" stroke="#141400" stroke-width="2"/>
<ellipse cx="2592.4" cy="1647.6" rx="17.9" ry="15.4" fill="#92D050" stroke="#141400" stroke-width="2"/>
<ellipse cx="2592.4" cy="1694.1" rx="17.9" ry="15.4" fill="#92D050" stroke="#141400" stroke-width="2"/>
<ellipse cx="2592.4" cy="1741.3" rx="17.9" ry="15.4" fill="#92D050" stroke="#141400" stroke-width="2"/>
<ellipse cx="2592.4" cy="1788.5" rx="17.9" ry="15.4" fill="#92D050" stroke="#141400" stroke-width="2"/>
<ellipse cx="2683.9" cy="1506.3" rx="17.9" ry="15.4" fill="#92D050" stroke="#141400" stroke-width="2"/>
<ellipse cx="2683.9" cy="1553.6" rx="17.9" ry="15.4" fill="#92D050" stroke="#141400" stroke-width="2"/>
<ellipse cx="2688.2" cy="1600.8" rx="17.9" ry="15.4" fill="#92D050" stroke="#141400" stroke-width="2"/>
<ellipse cx="2688.2" cy="1647.6" rx="17.9" ry="15.4" fill="#92D050" stroke="#141400" stroke-width="2"/>
<ellipse cx="2688.2" cy="1694.1" rx="17.9" ry="15.4" fill="#92D050" stroke="#141400" stroke-width="2"/>
<ellipse cx="2688.2" cy="1741.3" rx="17.9" ry="15.4" fill="#92D050" stroke="#141400" stroke-width="2"/>
<ellipse cx="2758.3" cy="1526.1" rx="17.9" ry="15.4" fill="#92D050" stroke="#141400" stroke-width="2"/>
<ellipse cx="2763.1" cy="1572.9" rx="17.9" ry="15.4" fill="#92D050" stroke="#141400" stroke-width="2"/>
<ellipse cx="2763.1" cy="1620.6" rx="17.9" ry="15.4" fill="#92D050" stroke="#141400" stroke-width="2"/>
<ellipse cx="2763.1" cy="1666.7" rx="17.9" ry="15.4" fill="#92D050" stroke="#141400" stroke-width="2"/>
<ellipse cx="2763.1" cy="1714.3" rx="17.9" ry="15.4" fill="#92D050" stroke="#141400" stroke-width="2"/>
<ellipse cx="2827.9" cy="1544.8" rx="17.9" ry="15.4" fill="#92D050" stroke="#141400" stroke-width="2"/>
<ellipse cx="2827.9" cy="1592.0" rx="17.9" ry="15.4" fill="#92D050" stroke="#141400" stroke-width="2"/>
<ellipse cx="2827.9" cy="1638.8" rx="17.9" ry="15.4" fill="#92D050" stroke="#141400" stroke-width="2"/>
<ellipse cx="2827.9" cy="1686.5" rx="17.9" ry="15.4" fill="#92D050" stroke="#141400" stroke-width="2"/>
<rect x="2866.6" y="1514.5" width="22.0" height="25.2" fill="#FF0000" stroke="#1a1400" stroke-width="2"/>
<rect x="2866.6" y="1539.6" width="22.0" height="25.2" fill="#FF0000" stroke="#1a1400" stroke-width="2"/>
<rect x="2866.6" y="1564.8" width="22.0" height="25.2" fill="#FF0000" stroke="#1a1400" stroke-width="2"/>
<rect x="2866.6" y="1589.9" width="22.0" height="25.2" fill="#FF0000" stroke="#1a1400" stroke-width="2"/>
<rect x="2866.6" y="1615.1" width="22.0" height="25.2" fill="#FF0000" stroke="#1a1400" stroke-width="2"/>
<rect x="2866.6" y="1640.2" width="22.0" height="25.2" fill="#FF0000" stroke="#1a1400" stroke-width="2"/>
<rect x="2866.6" y="1665.4" width="22.0" height="25.2" fill="#FF0000" stroke="#1a1400" stroke-width="2"/>
<rect x="2866.6" y="1690.5" width="22.0" height="25.2" fill="#FF0000" stroke="#1a1400" stroke-width="2"/>
<line x1="2866.6" y1="1564.8" x2="2888.6" y2="1564.8" stroke="#100c00" stroke-width="3.2"/>
<line x1="2866.6" y1="1589.9" x2="2888.6" y2="1589.9" stroke="#100c00" stroke-width="3.2"/>
<line x1="2866.6" y1="1615.1" x2="2888.6" y2="1615.1" stroke="#100c00" stroke-width="3.2"/>
<line x1="2866.6" y1="1665.4" x2="2888.6" y2="1665.4" stroke="#100c00" stroke-width="3.2"/>
<line x1="2866.6" y1="1690.5" x2="2888.6" y2="1690.5" stroke="#100c00" stroke-width="3.2"/>
<rect x="2909.0" y="1570.5" width="20.6" height="24.6" fill="#FF0000" stroke="#1a1400" stroke-width="2"/>
<rect x="2909.0" y="1595.1" width="20.6" height="24.6" fill="#FF0000" stroke="#1a1400" stroke-width="2"/>
<rect x="2909.0" y="1619.7" width="20.6" height="24.6" fill="#FF0000" stroke="#1a1400" stroke-width="2"/>
<line x1="2909.0" y1="1595.1" x2="2929.6" y2="1595.1" stroke="#100c00" stroke-width="3"/>
<line x1="2909.0" y1="1619.7" x2="2929.6" y2="1619.7" stroke="#100c00" stroke-width="3"/>
<path d="M1384.7,1354.5 L1435.9,1422.5 M1384.7,1354.5 L1487.1,1422.5 M1384.7,1354.5 L1537.9,1422.5 M1384.7,1354.5 L1589.1,1422.5 M1435.9,1354.5 L1487.1,1422.5 M1435.9,1354.5 L1537.9,1422.5 M1435.9,1354.5 L1589.1,1422.5 M1435.9,1354.5 L1640.3,1417.6 M1487.1,1354.5 L1487.1,1422.5 M1487.1,1354.5 L1537.9,1422.5 M1487.1,1354.5 L1589.1,1422.5 M1487.1,1354.5 L1691.1,1417.6 M1537.9,1354.5 L1537.9,1422.5 M1589.1,1354.5 L1537.9,1422.5 M1589.1,1354.5 L1487.1,1422.5 M1640.3,1354.5 L1435.9,1422.5 M1640.3,1354.5 L1487.1,1422.5 M1640.3,1354.5 L1537.9,1422.5 M1640.3,1354.5 L1589.1,1422.5 M1640.3,1354.5 L1640.3,1417.6 M1686.7,1354.5 L1435.9,1422.5 M1686.7,1354.5 L1487.1,1422.5 M1686.7,1354.5 L1589.1,1422.5 M1686.7,1354.5 L1640.3,1417.6 M1686.7,1354.5 L1691.1,1417.6 M1737.5,1354.5 L1537.9,1422.5 M1737.5,1354.5 L1589.1,1422.5 M1737.5,1354.5 L1640.3,1417.6 M1737.5,1354.5 L1691.1,1417.6 M1435.9,1458.5 L1465.3,1502.3 M1435.9,1458.5 L1517.3,1502.3 M1435.9,1458.5 L1567.7,1502.3 M1487.1,1458.5 L1465.3,1502.3 M1487.1,1458.5 L1517.3,1502.3 M1487.1,1458.5 L1619.4,1502.3 M1537.9,1458.5 L1465.3,1502.3 M1537.9,1458.5 L1517.3,1502.3 M1537.9,1458.5 L1567.7,1502.3 M1537.9,1458.5 L1619.4,1502.3 M1589.1,1458.5 L1517.3,1502.3 M1589.1,1458.5 L1567.7,1502.3 M1589.1,1458.5 L1619.4,1502.3 M1640.3,1453.6 L1517.3,1502.3 M1640.3,1453.6 L1567.7,1502.3 M1640.3,1453.6 L1619.4,1502.3 M1640.3,1453.6 L1670.2,1498.0 M1691.1,1453.6 L1567.7,1502.3 M1691.1,1453.6 L1619.4,1502.3 M1691.1,1453.6 L1670.2,1498.0 M1465.3,1538.3 L1495.6,1573.7 M1465.3,1538.3 L1546.8,1573.7 M1465.3,1538.3 L1598.0,1573.7 M1465.3,1538.3 L1649.2,1573.7 M1517.3,1538.3 L1495.6,1573.7 M1517.3,1538.3 L1546.8,1573.7 M1517.3,1538.3 L1598.0,1573.7 M1567.7,1538.3 L1495.6,1573.7 M1567.7,1538.3 L1546.8,1573.7 M1567.7,1538.3 L1598.0,1573.7 M1567.7,1538.3 L1649.2,1573.7 M1619.4,1538.3 L1495.6,1573.7 M1619.4,1538.3 L1546.8,1573.7 M1619.4,1538.3 L1598.0,1573.7 M1619.4,1538.3 L1649.2,1573.7 M1670.2,1534.0 L1495.6,1573.7 M1670.2,1534.0 L1598.0,1573.7 M1670.2,1534.0 L1649.2,1573.7" fill="none" stroke="#2c2c2c" stroke-width="1.2"/>
<ellipse cx="1384.7" cy="1336.5" rx="17.3" ry="19.4" fill="#92D050" stroke="#101800" stroke-width="2"/>
<ellipse cx="1435.9" cy="1336.5" rx="17.3" ry="19.4" fill="#92D050" stroke="#101800" stroke-width="2"/>
<ellipse cx="1487.1" cy="1336.5" rx="17.3" ry="19.4" fill="#92D050" stroke="#101800" stroke-width="2"/>
<ellipse cx="1537.9" cy="1336.5" rx="17.3" ry="19.4" fill="#92D050" stroke="#101800" stroke-width="2"/>
<ellipse cx="1589.1" cy="1336.5" rx="17.3" ry="19.4" fill="#92D050" stroke="#101800" stroke-width="2"/>
<ellipse cx="1640.3" cy="1336.5" rx="17.3" ry="19.4" fill="#92D050" stroke="#101800" stroke-width="2"/>
<ellipse cx="1686.7" cy="1336.5" rx="17.3" ry="19.4" fill="#92D050" stroke="#101800" stroke-width="2"/>
<ellipse cx="1737.5" cy="1336.5" rx="17.3" ry="19.4" fill="#92D050" stroke="#101800" stroke-width="2"/>
<ellipse cx="1435.9" cy="1440.5" rx="17.3" ry="19.4" fill="#92D050" stroke="#101800" stroke-width="2"/>
<ellipse cx="1487.1" cy="1440.5" rx="17.3" ry="19.4" fill="#92D050" stroke="#101800" stroke-width="2"/>
<ellipse cx="1537.9" cy="1440.5" rx="17.3" ry="19.4" fill="#92D050" stroke="#101800" stroke-width="2"/>
<ellipse cx="1589.1" cy="1440.5" rx="17.3" ry="19.4" fill="#92D050" stroke="#101800" stroke-width="2"/>
<ellipse cx="1640.3" cy="1435.6" rx="17.3" ry="19.4" fill="#92D050" stroke="#101800" stroke-width="2"/>
<ellipse cx="1691.1" cy="1435.6" rx="17.3" ry="19.4" fill="#92D050" stroke="#101800" stroke-width="2"/>
<ellipse cx="1465.3" cy="1520.3" rx="17.3" ry="19.4" fill="#92D050" stroke="#101800" stroke-width="2"/>
<ellipse cx="1517.3" cy="1520.3" rx="17.3" ry="19.4" fill="#92D050" stroke="#101800" stroke-width="2"/>
<ellipse cx="1567.7" cy="1520.3" rx="17.3" ry="19.4" fill="#92D050" stroke="#101800" stroke-width="2"/>
<ellipse cx="1619.4" cy="1520.3" rx="17.3" ry="19.4" fill="#92D050" stroke="#101800" stroke-width="2"/>
<ellipse cx="1670.2" cy="1516" rx="17.3" ry="19.4" fill="#92D050" stroke="#101800" stroke-width="2"/>
<ellipse cx="1495.6" cy="1591.7" rx="17.3" ry="19.4" fill="#92D050" stroke="#101800" stroke-width="2"/>
<ellipse cx="1546.8" cy="1591.7" rx="17.3" ry="19.4" fill="#92D050" stroke="#101800" stroke-width="2"/>
<ellipse cx="1598" cy="1591.7" rx="17.3" ry="19.4" fill="#92D050" stroke="#101800" stroke-width="2"/>
<ellipse cx="1649.2" cy="1591.7" rx="17.3" ry="19.4" fill="#92D050" stroke="#101800" stroke-width="2"/>
<line x1="1578.2" y1="1640" x2="1578.2" y2="1685" stroke="#000" stroke-width="2"/>
<polygon points="1578.2,1625.2 1559.7,1647.5 1596.7,1647.5" fill="#000"/>
<polygon points="1578.2,1699.4 1559.7,1677.5 1596.7,1677.5" fill="#000"/>
<path d="M1480,1735 L1545,1756 M1670,1735 L1621,1756" stroke="#303030" stroke-width="1.15" fill="none"/>
<rect x="1466.1" y="1709.8" width="27.2" height="25" fill="#92D050" stroke="#101800" stroke-width="2"/>
<rect x="1493.3" y="1709.8" width="27.2" height="25" fill="#92D050" stroke="#101800" stroke-width="2"/>
<rect x="1520.5" y="1709.8" width="27.2" height="25" fill="#92D050" stroke="#101800" stroke-width="2"/>
<rect x="1547.8" y="1709.8" width="27.2" height="25" fill="#92D050" stroke="#101800" stroke-width="2"/>
<rect x="1575.0" y="1709.8" width="27.2" height="25" fill="#92D050" stroke="#101800" stroke-width="2"/>
<rect x="1602.2" y="1709.8" width="27.2" height="25" fill="#92D050" stroke="#101800" stroke-width="2"/>
<rect x="1629.5" y="1709.8" width="27.2" height="25" fill="#92D050" stroke="#101800" stroke-width="2"/>
<rect x="1656.7" y="1709.8" width="27.2" height="25" fill="#92D050" stroke="#101800" stroke-width="2"/>
<line x1="1493.3" y1="1709.8" x2="1493.3" y2="1734.8" stroke="#101800" stroke-width="3.4"/>
<line x1="1575.0" y1="1709.8" x2="1575.0" y2="1734.8" stroke="#101800" stroke-width="3.4"/>
<rect x="1542.7" y="1755.8" width="26.9" height="24.2" fill="#92D050" stroke="#101800" stroke-width="2"/>
<rect x="1569.6" y="1755.8" width="26.9" height="24.2" fill="#92D050" stroke="#101800" stroke-width="2"/>
<rect x="1596.5" y="1755.8" width="26.9" height="24.2" fill="#92D050" stroke="#101800" stroke-width="2"/>
<polyline points="1017.8,2157.7 1017.9,2163.8 1018.2,2169.9 1018.8,2176.0 1019.6,2182.0 1020.7,2188.1 1022.1,2194.2 1023.8,2200.2 1025.7,2206.2 1027.8,2212.3 1030.3,2218.3 1032.9,2224.2 1035.9,2230.2 1039.1,2236.1 1042.6,2242.0 1046.3,2247.9 1050.3,2253.8 1054.5,2259.6 1059.0,2265.4 1063.7,2271.1 1068.7,2276.8 1073.9,2282.5 1079.4,2288.1 1085.1,2293.7 1091.1,2299.2 1097.3,2304.7 1103.8,2310.1 1110.4,2315.5 1117.4,2320.9 1124.5,2326.1 1131.9,2331.4 1139.5,2336.5 1147.3,2341.6 1155.3,2346.7 1163.6,2351.6 1172.1,2356.6 1180.8,2361.4 1189.7,2366.2 1198.8,2370.9 1208.1,2375.5 1217.6,2380.1 1227.3,2384.5 1237.2,2389.0 1247.3,2393.3 1257.6,2397.5 1268.0,2401.7 1278.7,2405.8 1289.5,2409.8 1300.5,2413.7 1311.6,2417.5 1322.9,2421.3 1334.4,2424.9 1346.1,2428.5 1357.9,2431.9 1369.8,2435.3 1381.9,2438.6 1394.1,2441.8 1406.5,2444.8 1419.0,2447.8 1431.6,2450.7 1444.3,2453.5 1457.2,2456.2 1470.2,2458.8 1483.3,2461.3 1496.5,2463.7 1509.8,2466.0 1523.2,2468.1 1536.7,2470.2 1550.2,2472.2 1563.9,2474.0 1577.6,2475.8 1591.5,2477.4 1605.3,2478.9 1619.3,2480.4 1633.3,2481.7 1647.3,2482.9 1661.5,2484.0 1675.6,2485.0 1689.8,2485.8 1704.0,2486.6 1718.3,2487.2 1732.6,2487.8 1746.9,2488.2 1761.2,2488.5 1775.6,2488.7 1789.9,2488.8 1804.3,2488.8 1818.6,2488.6 1832.9,2488.4 1847.2,2488.0 1861.5,2487.5 1875.8,2487.0 1890.1,2486.3 1904.3,2485.4 1918.5,2484.5 1932.6,2483.5 1946.7,2482.3 1960.7,2481.1 1974.7,2479.7 1988.6,2478.3 2002.5,2476.7 2016.3,2475.0 2030.0,2473.2 2043.6,2471.3 2057.1,2469.3 2070.6,2467.1 2083.9,2464.9 2097.2,2462.6 2110.3,2460.2 2123.4,2457.6 2136.3,2455.0 2149.1,2452.3 2161.8,2449.4 2174.4,2446.5 2186.8,2443.4 2199.1,2440.3 2211.3,2437.1 2223.3,2433.8 2235.2,2430.3 2246.9,2426.8 2258.5,2423.2 2269.9,2419.6 2281.1,2415.8 2292.2,2411.9 2303.1,2408.0 2313.8,2403.9 2324.4,2399.8 2334.8,2395.6 2345.0,2391.3 2355.0,2386.9 2364.8,2382.5 2374.4,2378.0 2383.8,2373.4 2393.0,2368.7 2402.0,2364.0 2410.8,2359.2 2419.4,2354.3 2427.8,2349.4 2436.0,2344.4 2443.9,2339.3 2451.6,2334.2 2459.1,2329.0 2466.4,2323.7 2473.4,2318.4 2480.2,2313.1 2486.8,2307.7 2493.2,2302.2 2499.2,2296.7 2505.1,2291.1 2510.7,2285.5 2516.1,2279.9 2521.2,2274.2 2526.1,2268.5 2530.7,2262.7 2535.1,2256.9 2539.2,2251.1 2543.0,2245.2 2546.7,2239.3 2550.0,2233.4 2553.1,2227.5 2555.9,2221.5" fill="none" stroke="#000" stroke-width="3" stroke-linejoin="round"/>
<polygon points="1791.6,2489.6 1758,2472 1758,2507.2" fill="#000"/>
<polygon points="2573,2152.2 2534.8,2221 2581.2,2221" fill="#000"/>
<g font-family="Liberation Sans, sans-serif">
<text x="599.2" y="928.9" font-size="47" textLength="275.2" lengthAdjust="spacingAndGlyphs" fill="#000" >Scaleograms</text>
<text x="2230.8" y="928.9" font-size="47" textLength="275.8" lengthAdjust="spacingAndGlyphs" fill="#000" >Scaleograms</text>
<text x="623.0" y="992.7" font-size="47" textLength="228.0" lengthAdjust="spacingAndGlyphs" fill="#000" >(4 Classes)</text>
<text x="2255.0" y="992.7" font-size="47" textLength="227.0" lengthAdjust="spacingAndGlyphs" fill="#000" >(4 Classes)</text>
<text x="619.0" y="1060.0" font-size="47" textLength="232.0" lengthAdjust="spacingAndGlyphs" fill="#000" >Material-1</text>
<text x="2251.5" y="1060.0" font-size="47" textLength="232.2" lengthAdjust="spacingAndGlyphs" fill="#000" >Material-2</text>
<text x="263.6" y="1322.0" font-size="47" textLength="293.4" lengthAdjust="spacingAndGlyphs" fill="#000" >65 % Training</text>
<text x="1940.3" y="1322.0" font-size="47" textLength="294.5" lengthAdjust="spacingAndGlyphs" fill="#000" >65 % Training</text>
<text x="919.7" y="1322.0" font-size="47" textLength="273.7" lengthAdjust="spacingAndGlyphs" fill="#000" >35 % Testing</text>
<text x="2555.0" y="1322.0" font-size="47" textLength="274.2" lengthAdjust="spacingAndGlyphs" fill="#000" >35 % Testing</text>
<text x="1369.4" y="1190.5" font-size="47" textLength="416.5" lengthAdjust="spacingAndGlyphs" fill="#000" >Transfer of learned</text>
<text x="1488.5" y="1255.0" font-size="47" textLength="179.5" lengthAdjust="spacingAndGlyphs" fill="#000" >features</text>
<text x="690.0" y="1854.0" font-size="47" textLength="316.0" lengthAdjust="spacingAndGlyphs" fill="#000" >Trained model</text>
<text x="2726.4" y="1809.5" font-size="47" textLength="315.6" lengthAdjust="spacingAndGlyphs" fill="#000" >Trained model</text>
<text x="1476.0" y="1863.7" font-size="47" textLength="284.0" lengthAdjust="spacingAndGlyphs" fill="#000" >Training only</text>
<text x="1480.0" y="1928.0" font-size="47" textLength="277.0" lengthAdjust="spacingAndGlyphs" fill="#000" >the classifier</text>
<text x="1566.0" y="1994.0" font-size="47" textLength="105.4" lengthAdjust="spacingAndGlyphs" fill="#000" >layer</text>
<text x="1880.0" y="1845.0" font-size="47" textLength="380.0" lengthAdjust="spacingAndGlyphs" fill="#000" >Selective training</text>
<text x="1849.0" y="1910.5" font-size="47" textLength="444.0" lengthAdjust="spacingAndGlyphs" fill="#000" >based with pervious</text>
<text x="1951.0" y="1974.0" font-size="47" textLength="240.0" lengthAdjust="spacingAndGlyphs" fill="#000" >knowledge</text>
<text x="851.3" y="2016.2" font-size="47" textLength="498.6" lengthAdjust="spacingAndGlyphs" fill="#000" >Prediction accuracy on</text>
<text x="987.0" y="2082.0" font-size="47" textLength="224.0" lengthAdjust="spacingAndGlyphs" fill="#000" >Material 1</text>
<text x="2428.0" y="2015.0" font-size="47" textLength="505.0" lengthAdjust="spacingAndGlyphs" fill="#000" >Prediction Accuracy on</text>
<text x="2566.5" y="2080.6" font-size="47" textLength="227.5" lengthAdjust="spacingAndGlyphs" fill="#000" >Material 2</text>
<text x="132.0" y="1869.5" font-size="41" textLength="346.0" lengthAdjust="spacingAndGlyphs" fill="#000" >VGG-16 or ResNet</text>
<text x="187.0" y="1924.8" font-size="41" textLength="235.0" lengthAdjust="spacingAndGlyphs" fill="#000" >Architecture</text>
<text x="120.0" y="2042.0" font-size="41" textLength="545.3" lengthAdjust="spacingAndGlyphs" fill="#000" >Un-trained convolution node</text>
<text x="124.3" y="2117.0" font-size="41" textLength="618.2" lengthAdjust="spacingAndGlyphs" fill="#000" >Un-trained Fully connected node</text>
<text x="127.2" y="2216.9" font-size="41" textLength="480.6" lengthAdjust="spacingAndGlyphs" fill="#000" >Trained convolution node</text>
<text x="127.2" y="2304.3" font-size="41" textLength="554.8" lengthAdjust="spacingAndGlyphs" fill="#000" >Trained Fully connected node</text>
<text x="139.6" y="2407.0" font-size="41" textLength="613.9" lengthAdjust="spacingAndGlyphs" fill="#000" >Re-trained Fully connected node</text>
</g>
<ellipse cx="67.7" cy="2027.5" rx="23" ry="20" fill="#FFC000" stroke="#2F5597" stroke-width="3"/>
<rect x="48" y="2089" width="46" height="39" fill="#FFC000" stroke="#2F5597" stroke-width="3"/>
<ellipse cx="67.7" cy="2203" rx="23" ry="20" fill="#92D050" stroke="#2F5597" stroke-width="3"/>
<rect x="48" y="2271" width="46" height="38" fill="#92D050" stroke="#2F5597" stroke-width="3"/>
<rect x="44.5" y="2384" width="46" height="38" fill="#FF0000" stroke="#2F5597" stroke-width="3"/>
</svg></body></html>
